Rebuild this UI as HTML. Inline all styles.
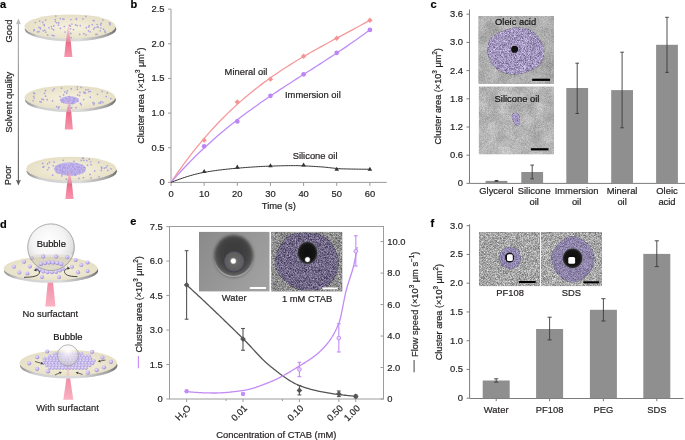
<!DOCTYPE html>
<html><head><meta charset="utf-8"><style>
html,body{margin:0;padding:0;background:#fff;}
svg{display:block;font-family:"Liberation Sans", sans-serif;will-change:transform;}
text{stroke:#231f20;stroke-width:0.2px;paint-order:stroke;}
</style></head><body>
<svg width="685" height="440" viewBox="0 0 685 440">
<rect width="685" height="440" fill="#fff"/>
<defs>
<radialGradient id="discTop" cx="50%" cy="55%" r="60%">
  <stop offset="0" stop-color="#f7f2df"/><stop offset="1" stop-color="#e4ddc3"/>
</radialGradient>
<linearGradient id="rim" x1="0" y1="0" x2="1" y2="0">
  <stop offset="0" stop-color="#8a8a8a"/><stop offset="0.15" stop-color="#cfcfcf"/><stop offset="0.6" stop-color="#dcdcdc"/><stop offset="0.9" stop-color="#a0a0a0"/><stop offset="1" stop-color="#6a6a6a"/>
</linearGradient>
<linearGradient id="beamLo" x1="0" y1="0" x2="0" y2="1">
  <stop offset="0" stop-color="#e06a88"/><stop offset="0.25" stop-color="#ef7592"/><stop offset="1" stop-color="#f697ad"/>
</linearGradient>
<linearGradient id="beamHi" x1="0" y1="0" x2="0" y2="1">
  <stop offset="0" stop-color="#f4b6c6" stop-opacity="0.4"/><stop offset="1" stop-color="#ea7593" stop-opacity="0.85"/>
</linearGradient>
<radialGradient id="bubble" cx="45%" cy="38%" r="62%">
  <stop offset="0" stop-color="#ffffff"/><stop offset="0.55" stop-color="#f4f4f4"/><stop offset="0.85" stop-color="#e0e0e0"/><stop offset="1" stop-color="#b8b8b8"/>
</radialGradient>
<linearGradient id="beamD" x1="0" y1="0" x2="0" y2="1">
  <stop offset="0" stop-color="#f08aa3"/><stop offset="1" stop-color="#f9b2c2"/>
</linearGradient>
<filter id="grain" x="0" y="0" width="100%" height="100%" color-interpolation-filters="sRGB">
<feTurbulence type="fractalNoise" baseFrequency="1.63" numOctaves="2" seed="3" result="n"/>
<feColorMatrix in="n" type="matrix" values="1 0 0 0 0  1 0 0 0 0  1 0 0 0 0  0 0 0 0 1" result="g"/>
<feComposite in="SourceGraphic" in2="g" operator="arithmetic" k1="0" k2="1" k3="0.75" k4="-0.375" result="c"/>
<feComposite in="c" in2="SourceGraphic" operator="in"/>
</filter>
<filter id="grainS" x="0" y="0" width="100%" height="100%" color-interpolation-filters="sRGB">
<feTurbulence type="fractalNoise" baseFrequency="1.63" numOctaves="2" seed="9" result="n"/>
<feColorMatrix in="n" type="matrix" values="1 0 0 0 0  1 0 0 0 0  1 0 0 0 0  0 0 0 0 1" result="g"/>
<feComposite in="SourceGraphic" in2="g" operator="arithmetic" k1="0" k2="1" k3="0.55" k4="-0.275" result="c"/>
<feComposite in="c" in2="SourceGraphic" operator="in"/>
</filter>
<filter id="grainXS" x="0" y="0" width="100%" height="100%" color-interpolation-filters="sRGB">
<feTurbulence type="fractalNoise" baseFrequency="1.37" numOctaves="2" seed="4" result="n"/>
<feColorMatrix in="n" type="matrix" values="1 0 0 0 0  1 0 0 0 0  1 0 0 0 0  0 0 0 0 1" result="g"/>
<feComposite in="SourceGraphic" in2="g" operator="arithmetic" k1="0" k2="1" k3="0.28" k4="-0.14" result="c"/>
<feComposite in="c" in2="SourceGraphic" operator="in"/>
</filter>
<filter id="blotch" x="0" y="0" width="100%" height="100%" color-interpolation-filters="sRGB">
<feTurbulence type="fractalNoise" baseFrequency="0.07" numOctaves="3" seed="8" result="n"/>
<feColorMatrix in="n" type="matrix" values="1 0 0 0 0  1 0 0 0 0  1 0 0 0 0  0 0 0 0 1" result="g"/>
<feComposite in="SourceGraphic" in2="g" operator="arithmetic" k1="0" k2="1" k3="0.22" k4="-0.11" result="c"/>
<feComposite in="c" in2="SourceGraphic" operator="in"/>
</filter>
</defs>
<text x="0.00" y="7.80" font-size="11" text-anchor="start" fill="#000" font-weight="bold" >a</text>
<text x="130.50" y="7.80" font-size="11" text-anchor="start" fill="#000" font-weight="bold" >b</text>
<text x="430.50" y="7.80" font-size="11" text-anchor="start" fill="#000" font-weight="bold" >c</text>
<text x="0.00" y="227.50" font-size="11" text-anchor="start" fill="#000" font-weight="bold" >d</text>
<text x="130.30" y="224.80" font-size="11" text-anchor="start" fill="#000" font-weight="bold" >e</text>
<text x="430.50" y="227.00" font-size="11" text-anchor="start" fill="#000" font-weight="bold" >f</text>
<defs><linearGradient id="arrg" gradientUnits="userSpaceOnUse" x1="0" y1="18" x2="0" y2="186"><stop offset="0" stop-color="#b8b8b8"/><stop offset="1" stop-color="#5e5e5e"/></linearGradient></defs>
<rect x="17.82" y="22" width="1.15" height="160" fill="url(#arrg)"/>
<path d="M18.4,18.6 L15.9,24.4 L18.4,23.4 L20.9,24.4 Z" fill="#b8b8b8"/>
<path d="M18.4,185.6 L15.9,179.8 L18.4,180.8 L20.9,179.8 Z" fill="#5e5e5e"/>
<text transform="translate(11.60,31.00) rotate(-90)" x="0" y="0" font-size="9.4" text-anchor="middle" fill="#231f20">Good</text>
<text transform="translate(11.60,102.30) rotate(-90)" x="0" y="0" font-size="9.4" text-anchor="middle" fill="#231f20">Solvent quality</text>
<text transform="translate(11.30,175.40) rotate(-90)" x="0" y="0" font-size="9.4" text-anchor="middle" fill="#231f20">Poor</text>
<path d="M65.90,41.10 L70.70,41.10 L72.40,57.00 L64.20,57.00 Z" fill="url(#beamLo)"/>
<ellipse cx="70.50" cy="29.20" rx="45.70" ry="12.20" fill="url(#rim)"/>
<ellipse cx="70.00" cy="26.60" rx="45.70" ry="12.20" fill="url(#discTop)"/>
<circle cx="94.11" cy="20.62" r="0.85" fill="#aaa2de"/>
<circle cx="69.58" cy="25.37" r="0.85" fill="#aaa2de"/>
<circle cx="83.86" cy="33.64" r="0.85" fill="#aaa2de"/>
<circle cx="100.69" cy="24.96" r="0.85" fill="#aaa2de"/>
<circle cx="65.01" cy="32.01" r="0.85" fill="#aaa2de"/>
<circle cx="110.14" cy="23.70" r="0.85" fill="#aaa2de"/>
<circle cx="44.10" cy="24.70" r="0.85" fill="#aaa2de"/>
<circle cx="64.32" cy="26.50" r="0.85" fill="#aaa2de"/>
<circle cx="45.60" cy="20.03" r="0.85" fill="#aaa2de"/>
<circle cx="44.30" cy="25.61" r="0.85" fill="#aaa2de"/>
<circle cx="100.85" cy="27.98" r="0.85" fill="#aaa2de"/>
<circle cx="83.01" cy="18.94" r="0.85" fill="#aaa2de"/>
<circle cx="35.35" cy="22.52" r="0.85" fill="#aaa2de"/>
<circle cx="90.24" cy="31.75" r="0.85" fill="#aaa2de"/>
<circle cx="109.89" cy="24.70" r="0.85" fill="#aaa2de"/>
<circle cx="100.17" cy="30.76" r="0.85" fill="#aaa2de"/>
<circle cx="52.03" cy="28.74" r="0.85" fill="#aaa2de"/>
<circle cx="70.48" cy="28.77" r="0.85" fill="#aaa2de"/>
<circle cx="97.18" cy="24.51" r="0.85" fill="#aaa2de"/>
<circle cx="40.11" cy="27.79" r="0.85" fill="#aaa2de"/>
<circle cx="88.56" cy="30.86" r="0.85" fill="#aaa2de"/>
<circle cx="58.55" cy="25.11" r="0.85" fill="#aaa2de"/>
<circle cx="70.77" cy="33.39" r="0.85" fill="#aaa2de"/>
<circle cx="71.91" cy="24.00" r="0.85" fill="#aaa2de"/>
<circle cx="60.28" cy="18.56" r="0.85" fill="#aaa2de"/>
<circle cx="94.73" cy="27.57" r="0.85" fill="#aaa2de"/>
<circle cx="102.93" cy="20.07" r="0.85" fill="#aaa2de"/>
<circle cx="71.26" cy="37.64" r="0.85" fill="#aaa2de"/>
<circle cx="77.11" cy="25.60" r="0.85" fill="#aaa2de"/>
<circle cx="48.91" cy="27.77" r="0.85" fill="#aaa2de"/>
<circle cx="95.93" cy="34.42" r="0.85" fill="#aaa2de"/>
<circle cx="105.30" cy="32.47" r="0.85" fill="#aaa2de"/>
<circle cx="98.26" cy="27.06" r="0.85" fill="#aaa2de"/>
<circle cx="75.61" cy="24.80" r="0.85" fill="#aaa2de"/>
<circle cx="76.40" cy="19.28" r="0.85" fill="#aaa2de"/>
<circle cx="70.43" cy="26.23" r="0.85" fill="#aaa2de"/>
<circle cx="56.91" cy="22.84" r="0.85" fill="#aaa2de"/>
<circle cx="73.52" cy="29.61" r="0.85" fill="#aaa2de"/>
<circle cx="80.28" cy="25.58" r="0.85" fill="#aaa2de"/>
<circle cx="40.50" cy="28.66" r="0.85" fill="#aaa2de"/>
<circle cx="97.15" cy="34.32" r="0.85" fill="#aaa2de"/>
<circle cx="47.63" cy="34.94" r="0.85" fill="#aaa2de"/>
<circle cx="85.82" cy="16.43" r="0.85" fill="#aaa2de"/>
<circle cx="93.36" cy="20.49" r="0.85" fill="#aaa2de"/>
<circle cx="34.31" cy="29.65" r="0.85" fill="#aaa2de"/>
<circle cx="55.78" cy="16.10" r="0.85" fill="#aaa2de"/>
<circle cx="38.89" cy="27.27" r="0.85" fill="#aaa2de"/>
<circle cx="39.67" cy="21.06" r="0.85" fill="#aaa2de"/>
<circle cx="89.34" cy="25.49" r="0.85" fill="#aaa2de"/>
<circle cx="53.73" cy="25.96" r="0.85" fill="#aaa2de"/>
<circle cx="62.77" cy="18.99" r="0.85" fill="#aaa2de"/>
<circle cx="70.92" cy="19.50" r="0.85" fill="#aaa2de"/>
<circle cx="79.66" cy="34.34" r="0.85" fill="#aaa2de"/>
<circle cx="37.69" cy="31.94" r="0.85" fill="#aaa2de"/>
<circle cx="38.94" cy="31.59" r="0.85" fill="#aaa2de"/>
<circle cx="86.29" cy="27.69" r="0.85" fill="#aaa2de"/>
<circle cx="97.22" cy="27.01" r="0.85" fill="#aaa2de"/>
<circle cx="44.70" cy="30.22" r="0.85" fill="#aaa2de"/>
<circle cx="60.39" cy="28.45" r="0.85" fill="#aaa2de"/>
<circle cx="53.66" cy="29.80" r="0.85" fill="#aaa2de"/>
<circle cx="52.30" cy="35.35" r="0.85" fill="#aaa2de"/>
<circle cx="92.29" cy="24.55" r="0.85" fill="#aaa2de"/>
<circle cx="76.42" cy="18.59" r="0.85" fill="#aaa2de"/>
<circle cx="88.65" cy="26.82" r="0.85" fill="#aaa2de"/>
<circle cx="58.85" cy="22.87" r="0.85" fill="#aaa2de"/>
<circle cx="43.11" cy="30.85" r="0.85" fill="#aaa2de"/>
<circle cx="63.87" cy="19.14" r="0.85" fill="#aaa2de"/>
<circle cx="33.84" cy="30.65" r="0.85" fill="#aaa2de"/>
<circle cx="51.36" cy="26.60" r="0.85" fill="#aaa2de"/>
<circle cx="54.04" cy="35.67" r="0.85" fill="#aaa2de"/>
<circle cx="42.66" cy="22.40" r="0.85" fill="#aaa2de"/>
<circle cx="55.29" cy="19.60" r="0.85" fill="#aaa2de"/>
<circle cx="85.95" cy="34.84" r="0.85" fill="#aaa2de"/>
<circle cx="109.50" cy="22.79" r="0.85" fill="#aaa2de"/>
<circle cx="104.95" cy="31.17" r="0.85" fill="#aaa2de"/>
<circle cx="45.75" cy="32.10" r="0.85" fill="#aaa2de"/>
<circle cx="93.68" cy="29.05" r="0.85" fill="#aaa2de"/>
<circle cx="101.18" cy="23.38" r="0.85" fill="#aaa2de"/>
<circle cx="55.40" cy="21.51" r="0.85" fill="#aaa2de"/>
<circle cx="103.58" cy="29.14" r="0.85" fill="#aaa2de"/>
<path d="M68.05,24.60 L68.55,24.60 L70.70,41.60 L65.90,41.60 Z" fill="url(#beamHi)"/>
<path d="M66.40,111.80 L71.20,111.80 L72.90,129.50 L64.70,129.50 Z" fill="url(#beamLo)"/>
<ellipse cx="70.40" cy="100.10" rx="45.50" ry="12.00" fill="url(#rim)"/>
<ellipse cx="69.90" cy="97.50" rx="45.50" ry="12.00" fill="url(#discTop)"/>
<circle cx="100.43" cy="103.16" r="0.85" fill="#aaa2de"/>
<circle cx="85.35" cy="92.90" r="0.85" fill="#aaa2de"/>
<circle cx="77.29" cy="89.30" r="0.85" fill="#aaa2de"/>
<circle cx="63.59" cy="94.94" r="0.85" fill="#aaa2de"/>
<circle cx="110.79" cy="98.56" r="0.85" fill="#aaa2de"/>
<circle cx="64.88" cy="91.94" r="0.85" fill="#aaa2de"/>
<circle cx="66.71" cy="93.14" r="0.85" fill="#aaa2de"/>
<circle cx="58.98" cy="106.90" r="0.85" fill="#aaa2de"/>
<circle cx="53.99" cy="88.78" r="0.85" fill="#aaa2de"/>
<circle cx="85.78" cy="89.86" r="0.85" fill="#aaa2de"/>
<circle cx="93.82" cy="104.45" r="0.85" fill="#aaa2de"/>
<circle cx="93.01" cy="102.66" r="0.85" fill="#aaa2de"/>
<circle cx="68.99" cy="107.70" r="0.85" fill="#aaa2de"/>
<circle cx="69.98" cy="105.46" r="0.85" fill="#aaa2de"/>
<circle cx="56.61" cy="106.69" r="0.85" fill="#aaa2de"/>
<circle cx="106.27" cy="96.56" r="0.85" fill="#aaa2de"/>
<circle cx="76.06" cy="107.59" r="0.85" fill="#aaa2de"/>
<circle cx="90.26" cy="97.18" r="0.85" fill="#aaa2de"/>
<circle cx="44.58" cy="93.29" r="0.85" fill="#aaa2de"/>
<circle cx="88.06" cy="89.49" r="0.85" fill="#aaa2de"/>
<circle cx="107.34" cy="92.93" r="0.85" fill="#aaa2de"/>
<circle cx="83.68" cy="99.61" r="0.85" fill="#aaa2de"/>
<circle cx="52.78" cy="90.49" r="0.85" fill="#aaa2de"/>
<circle cx="70.98" cy="107.92" r="0.85" fill="#aaa2de"/>
<circle cx="81.12" cy="87.31" r="0.85" fill="#aaa2de"/>
<circle cx="99.06" cy="102.92" r="0.85" fill="#aaa2de"/>
<circle cx="83.81" cy="92.05" r="0.85" fill="#aaa2de"/>
<circle cx="34.07" cy="98.04" r="0.85" fill="#aaa2de"/>
<circle cx="102.11" cy="91.38" r="0.85" fill="#aaa2de"/>
<circle cx="40.04" cy="101.65" r="0.85" fill="#aaa2de"/>
<circle cx="41.12" cy="102.10" r="0.85" fill="#aaa2de"/>
<circle cx="80.39" cy="103.32" r="0.85" fill="#aaa2de"/>
<circle cx="34.69" cy="93.59" r="0.85" fill="#aaa2de"/>
<circle cx="94.10" cy="103.26" r="0.85" fill="#aaa2de"/>
<circle cx="102.88" cy="102.43" r="0.85" fill="#aaa2de"/>
<circle cx="67.42" cy="90.91" r="0.85" fill="#aaa2de"/>
<circle cx="84.54" cy="93.09" r="0.85" fill="#aaa2de"/>
<circle cx="33.69" cy="96.25" r="0.85" fill="#aaa2de"/>
<circle cx="77.63" cy="94.93" r="0.85" fill="#aaa2de"/>
<circle cx="71.25" cy="88.95" r="0.85" fill="#aaa2de"/>
<circle cx="79.55" cy="95.57" r="0.85" fill="#aaa2de"/>
<circle cx="33.12" cy="100.74" r="0.85" fill="#aaa2de"/>
<circle cx="45.56" cy="96.17" r="0.85" fill="#aaa2de"/>
<circle cx="47.22" cy="99.69" r="0.85" fill="#aaa2de"/>
<circle cx="81.20" cy="104.70" r="0.85" fill="#aaa2de"/>
<circle cx="88.96" cy="91.66" r="0.85" fill="#aaa2de"/>
<circle cx="61.59" cy="88.17" r="0.85" fill="#aaa2de"/>
<circle cx="90.26" cy="91.28" r="0.85" fill="#aaa2de"/>
<circle cx="45.47" cy="90.72" r="0.85" fill="#aaa2de"/>
<circle cx="52.59" cy="100.90" r="0.85" fill="#aaa2de"/>
<circle cx="77.28" cy="86.73" r="0.85" fill="#aaa2de"/>
<circle cx="97.44" cy="94.29" r="0.85" fill="#aaa2de"/>
<circle cx="71.65" cy="107.61" r="0.85" fill="#aaa2de"/>
<circle cx="79.96" cy="92.45" r="0.85" fill="#aaa2de"/>
<circle cx="33.61" cy="92.84" r="0.85" fill="#aaa2de"/>
<circle cx="100.90" cy="101.64" r="0.85" fill="#aaa2de"/>
<circle cx="43.35" cy="99.63" r="0.85" fill="#aaa2de"/>
<circle cx="58.33" cy="107.95" r="0.85" fill="#aaa2de"/>
<circle cx="41.90" cy="99.22" r="0.85" fill="#aaa2de"/>
<circle cx="60.05" cy="96.62" r="0.85" fill="#aaa2de"/>
<ellipse cx="69.40" cy="100.20" rx="9.40" ry="4.00" fill="#c2b6ec"/>
<circle cx="74.17" cy="99.36" r="0.55" fill="#a898e0"/>
<circle cx="72.05" cy="103.88" r="0.55" fill="#a898e0"/>
<circle cx="72.39" cy="102.42" r="0.55" fill="#a898e0"/>
<circle cx="73.60" cy="100.18" r="0.55" fill="#a898e0"/>
<circle cx="66.72" cy="99.86" r="0.55" fill="#a898e0"/>
<circle cx="75.02" cy="98.35" r="0.55" fill="#a898e0"/>
<circle cx="69.89" cy="100.02" r="0.55" fill="#a898e0"/>
<circle cx="65.58" cy="98.05" r="0.55" fill="#a898e0"/>
<circle cx="69.19" cy="98.28" r="0.55" fill="#a898e0"/>
<circle cx="68.04" cy="101.63" r="0.55" fill="#a898e0"/>
<circle cx="77.27" cy="100.89" r="0.55" fill="#a898e0"/>
<circle cx="62.75" cy="99.53" r="0.55" fill="#a898e0"/>
<circle cx="72.18" cy="97.23" r="0.55" fill="#a898e0"/>
<circle cx="65.57" cy="98.05" r="0.55" fill="#a898e0"/>
<circle cx="72.61" cy="101.65" r="0.55" fill="#a898e0"/>
<circle cx="68.25" cy="100.39" r="0.55" fill="#a898e0"/>
<circle cx="62.11" cy="100.53" r="0.55" fill="#a898e0"/>
<circle cx="61.81" cy="100.33" r="0.55" fill="#a898e0"/>
<circle cx="73.45" cy="98.26" r="0.55" fill="#a898e0"/>
<circle cx="76.82" cy="99.89" r="0.55" fill="#a898e0"/>
<circle cx="73.22" cy="99.43" r="0.55" fill="#a898e0"/>
<circle cx="70.78" cy="97.36" r="0.55" fill="#a898e0"/>
<circle cx="68.29" cy="96.44" r="0.55" fill="#a898e0"/>
<circle cx="71.19" cy="103.25" r="0.55" fill="#a898e0"/>
<circle cx="63.39" cy="100.28" r="0.55" fill="#a898e0"/>
<circle cx="69.07" cy="99.44" r="0.55" fill="#a898e0"/>
<circle cx="73.36" cy="103.69" r="0.55" fill="#a898e0"/>
<circle cx="73.26" cy="99.98" r="0.55" fill="#a898e0"/>
<circle cx="78.09" cy="98.85" r="0.55" fill="#a898e0"/>
<circle cx="74.02" cy="101.47" r="0.55" fill="#a898e0"/>
<circle cx="74.32" cy="103.02" r="0.55" fill="#a898e0"/>
<circle cx="64.23" cy="101.17" r="0.55" fill="#a898e0"/>
<circle cx="67.57" cy="101.54" r="0.55" fill="#a898e0"/>
<circle cx="78.37" cy="101.28" r="0.55" fill="#a898e0"/>
<circle cx="60.22" cy="99.92" r="0.55" fill="#a898e0"/>
<circle cx="73.38" cy="103.27" r="0.55" fill="#a898e0"/>
<circle cx="72.22" cy="102.73" r="0.55" fill="#a898e0"/>
<circle cx="73.71" cy="101.05" r="0.55" fill="#a898e0"/>
<circle cx="74.42" cy="97.80" r="0.55" fill="#a898e0"/>
<circle cx="73.99" cy="100.89" r="0.55" fill="#a898e0"/>
<circle cx="63.60" cy="102.63" r="0.55" fill="#a898e0"/>
<circle cx="62.59" cy="101.10" r="0.55" fill="#a898e0"/>
<circle cx="68.17" cy="98.23" r="0.55" fill="#a898e0"/>
<circle cx="70.64" cy="99.94" r="0.55" fill="#a898e0"/>
<circle cx="69.13" cy="102.90" r="0.55" fill="#a898e0"/>
<circle cx="72.38" cy="102.24" r="0.55" fill="#a898e0"/>
<circle cx="69.12" cy="101.60" r="0.55" fill="#a898e0"/>
<circle cx="66.30" cy="98.34" r="0.55" fill="#a898e0"/>
<circle cx="69.45" cy="96.42" r="0.55" fill="#a898e0"/>
<circle cx="61.50" cy="102.23" r="0.55" fill="#a898e0"/>
<circle cx="63.27" cy="102.20" r="0.55" fill="#a898e0"/>
<circle cx="74.75" cy="99.44" r="0.55" fill="#a898e0"/>
<path d="M68.55,100.20 L69.05,100.20 L71.20,112.30 L66.40,112.30 Z" fill="url(#beamHi)"/>
<path d="M67.10,183.00 L71.90,183.00 L73.60,199.00 L65.40,199.00 Z" fill="url(#beamLo)"/>
<ellipse cx="71.80" cy="171.30" rx="45.20" ry="12.00" fill="url(#rim)"/>
<ellipse cx="71.30" cy="168.70" rx="45.20" ry="12.00" fill="url(#discTop)"/>
<circle cx="47.61" cy="169.76" r="0.85" fill="#aaa2de"/>
<circle cx="82.67" cy="158.27" r="0.85" fill="#aaa2de"/>
<circle cx="49.55" cy="162.32" r="0.85" fill="#aaa2de"/>
<circle cx="101.72" cy="168.13" r="0.85" fill="#aaa2de"/>
<circle cx="83.87" cy="160.31" r="0.85" fill="#aaa2de"/>
<circle cx="83.49" cy="177.53" r="0.85" fill="#aaa2de"/>
<circle cx="94.64" cy="170.89" r="0.85" fill="#aaa2de"/>
<circle cx="104.34" cy="168.05" r="0.85" fill="#aaa2de"/>
<circle cx="91.08" cy="177.79" r="0.85" fill="#aaa2de"/>
<circle cx="61.80" cy="175.92" r="0.85" fill="#aaa2de"/>
<circle cx="66.29" cy="179.15" r="0.85" fill="#aaa2de"/>
<circle cx="78.92" cy="178.40" r="0.85" fill="#aaa2de"/>
<circle cx="86.78" cy="160.61" r="0.85" fill="#aaa2de"/>
<circle cx="107.88" cy="170.36" r="0.85" fill="#aaa2de"/>
<circle cx="90.63" cy="161.77" r="0.85" fill="#aaa2de"/>
<circle cx="101.28" cy="170.46" r="0.85" fill="#aaa2de"/>
<circle cx="63.21" cy="160.32" r="0.85" fill="#aaa2de"/>
<circle cx="52.67" cy="175.15" r="0.85" fill="#aaa2de"/>
<circle cx="91.05" cy="164.64" r="0.85" fill="#aaa2de"/>
<circle cx="43.94" cy="166.49" r="0.85" fill="#aaa2de"/>
<circle cx="81.29" cy="160.45" r="0.85" fill="#aaa2de"/>
<circle cx="107.16" cy="165.77" r="0.85" fill="#aaa2de"/>
<circle cx="111.13" cy="168.87" r="0.85" fill="#aaa2de"/>
<circle cx="47.58" cy="163.93" r="0.85" fill="#aaa2de"/>
<circle cx="83.25" cy="158.14" r="0.85" fill="#aaa2de"/>
<circle cx="87.51" cy="165.16" r="0.85" fill="#aaa2de"/>
<circle cx="90.01" cy="174.41" r="0.85" fill="#aaa2de"/>
<circle cx="48.80" cy="167.65" r="0.85" fill="#aaa2de"/>
<circle cx="53.26" cy="165.75" r="0.85" fill="#aaa2de"/>
<circle cx="54.13" cy="162.04" r="0.85" fill="#aaa2de"/>
<circle cx="98.76" cy="162.43" r="0.85" fill="#aaa2de"/>
<circle cx="43.04" cy="167.15" r="0.85" fill="#aaa2de"/>
<circle cx="89.21" cy="159.14" r="0.85" fill="#aaa2de"/>
<circle cx="101.45" cy="167.22" r="0.85" fill="#aaa2de"/>
<circle cx="106.09" cy="167.53" r="0.85" fill="#aaa2de"/>
<circle cx="73.98" cy="161.28" r="0.85" fill="#aaa2de"/>
<circle cx="99.03" cy="176.82" r="0.85" fill="#aaa2de"/>
<circle cx="42.70" cy="163.39" r="0.85" fill="#aaa2de"/>
<ellipse cx="70.00" cy="169.00" rx="16.00" ry="6.70" fill="#c2b6ec"/>
<circle cx="79.83" cy="170.90" r="0.55" fill="#a898e0"/>
<circle cx="79.80" cy="166.93" r="0.55" fill="#a898e0"/>
<circle cx="58.15" cy="166.21" r="0.55" fill="#a898e0"/>
<circle cx="79.40" cy="165.93" r="0.55" fill="#a898e0"/>
<circle cx="65.08" cy="167.89" r="0.55" fill="#a898e0"/>
<circle cx="67.43" cy="167.79" r="0.55" fill="#a898e0"/>
<circle cx="67.90" cy="175.03" r="0.55" fill="#a898e0"/>
<circle cx="77.86" cy="173.51" r="0.55" fill="#a898e0"/>
<circle cx="75.22" cy="169.25" r="0.55" fill="#a898e0"/>
<circle cx="63.25" cy="166.87" r="0.55" fill="#a898e0"/>
<circle cx="72.84" cy="166.15" r="0.55" fill="#a898e0"/>
<circle cx="82.92" cy="171.60" r="0.55" fill="#a898e0"/>
<circle cx="82.79" cy="170.03" r="0.55" fill="#a898e0"/>
<circle cx="59.50" cy="166.32" r="0.55" fill="#a898e0"/>
<circle cx="75.21" cy="169.33" r="0.55" fill="#a898e0"/>
<circle cx="67.24" cy="174.88" r="0.55" fill="#a898e0"/>
<circle cx="73.59" cy="166.87" r="0.55" fill="#a898e0"/>
<circle cx="62.08" cy="173.85" r="0.55" fill="#a898e0"/>
<circle cx="69.27" cy="172.78" r="0.55" fill="#a898e0"/>
<circle cx="65.26" cy="164.94" r="0.55" fill="#a898e0"/>
<circle cx="71.11" cy="173.25" r="0.55" fill="#a898e0"/>
<circle cx="59.48" cy="172.91" r="0.55" fill="#a898e0"/>
<circle cx="74.12" cy="173.86" r="0.55" fill="#a898e0"/>
<circle cx="62.59" cy="169.37" r="0.55" fill="#a898e0"/>
<circle cx="67.54" cy="168.64" r="0.55" fill="#a898e0"/>
<circle cx="56.76" cy="169.03" r="0.55" fill="#a898e0"/>
<circle cx="64.11" cy="166.52" r="0.55" fill="#a898e0"/>
<circle cx="65.24" cy="170.97" r="0.55" fill="#a898e0"/>
<circle cx="72.77" cy="167.14" r="0.55" fill="#a898e0"/>
<circle cx="60.11" cy="166.71" r="0.55" fill="#a898e0"/>
<circle cx="57.96" cy="169.74" r="0.55" fill="#a898e0"/>
<circle cx="76.91" cy="167.40" r="0.55" fill="#a898e0"/>
<circle cx="65.94" cy="170.40" r="0.55" fill="#a898e0"/>
<circle cx="79.04" cy="167.40" r="0.55" fill="#a898e0"/>
<circle cx="79.64" cy="170.65" r="0.55" fill="#a898e0"/>
<circle cx="67.81" cy="167.29" r="0.55" fill="#a898e0"/>
<circle cx="69.88" cy="171.72" r="0.55" fill="#a898e0"/>
<circle cx="67.46" cy="171.60" r="0.55" fill="#a898e0"/>
<circle cx="68.75" cy="165.58" r="0.55" fill="#a898e0"/>
<circle cx="71.15" cy="171.62" r="0.55" fill="#a898e0"/>
<circle cx="56.29" cy="167.99" r="0.55" fill="#a898e0"/>
<circle cx="67.63" cy="174.09" r="0.55" fill="#a898e0"/>
<circle cx="83.97" cy="167.31" r="0.55" fill="#a898e0"/>
<circle cx="82.73" cy="172.90" r="0.55" fill="#a898e0"/>
<circle cx="62.39" cy="168.52" r="0.55" fill="#a898e0"/>
<circle cx="57.94" cy="173.20" r="0.55" fill="#a898e0"/>
<circle cx="75.19" cy="174.19" r="0.55" fill="#a898e0"/>
<circle cx="79.36" cy="171.25" r="0.55" fill="#a898e0"/>
<circle cx="77.48" cy="169.86" r="0.55" fill="#a898e0"/>
<circle cx="57.30" cy="170.18" r="0.55" fill="#a898e0"/>
<circle cx="82.17" cy="164.70" r="0.55" fill="#a898e0"/>
<circle cx="75.55" cy="173.50" r="0.55" fill="#a898e0"/>
<circle cx="84.48" cy="170.06" r="0.55" fill="#a898e0"/>
<circle cx="78.56" cy="169.15" r="0.55" fill="#a898e0"/>
<circle cx="76.89" cy="163.73" r="0.55" fill="#a898e0"/>
<circle cx="55.96" cy="166.64" r="0.55" fill="#a898e0"/>
<circle cx="72.05" cy="173.40" r="0.55" fill="#a898e0"/>
<circle cx="61.75" cy="164.71" r="0.55" fill="#a898e0"/>
<circle cx="62.00" cy="170.55" r="0.55" fill="#a898e0"/>
<circle cx="78.11" cy="167.58" r="0.55" fill="#a898e0"/>
<circle cx="65.76" cy="167.61" r="0.55" fill="#a898e0"/>
<circle cx="65.21" cy="167.90" r="0.55" fill="#a898e0"/>
<circle cx="56.66" cy="169.00" r="0.55" fill="#a898e0"/>
<circle cx="85.14" cy="167.83" r="0.55" fill="#a898e0"/>
<circle cx="77.92" cy="164.45" r="0.55" fill="#a898e0"/>
<circle cx="76.11" cy="172.43" r="0.55" fill="#a898e0"/>
<circle cx="75.56" cy="169.23" r="0.55" fill="#a898e0"/>
<circle cx="69.48" cy="170.92" r="0.55" fill="#a898e0"/>
<circle cx="57.07" cy="172.33" r="0.55" fill="#a898e0"/>
<circle cx="83.33" cy="169.23" r="0.55" fill="#a898e0"/>
<circle cx="68.18" cy="171.93" r="0.55" fill="#a898e0"/>
<circle cx="59.96" cy="165.88" r="0.55" fill="#a898e0"/>
<circle cx="60.37" cy="170.15" r="0.55" fill="#a898e0"/>
<circle cx="64.08" cy="165.41" r="0.55" fill="#a898e0"/>
<circle cx="76.12" cy="175.08" r="0.55" fill="#a898e0"/>
<circle cx="63.47" cy="171.75" r="0.55" fill="#a898e0"/>
<circle cx="67.22" cy="173.74" r="0.55" fill="#a898e0"/>
<circle cx="72.71" cy="165.88" r="0.55" fill="#a898e0"/>
<circle cx="69.34" cy="167.43" r="0.55" fill="#a898e0"/>
<circle cx="59.51" cy="167.13" r="0.55" fill="#a898e0"/>
<circle cx="64.31" cy="172.67" r="0.55" fill="#a898e0"/>
<circle cx="69.35" cy="170.33" r="0.55" fill="#a898e0"/>
<circle cx="68.98" cy="173.48" r="0.55" fill="#a898e0"/>
<circle cx="80.29" cy="169.77" r="0.55" fill="#a898e0"/>
<circle cx="69.40" cy="171.96" r="0.55" fill="#a898e0"/>
<circle cx="81.41" cy="167.66" r="0.55" fill="#a898e0"/>
<circle cx="68.96" cy="165.38" r="0.55" fill="#a898e0"/>
<circle cx="61.51" cy="171.92" r="0.55" fill="#a898e0"/>
<circle cx="75.61" cy="175.15" r="0.55" fill="#a898e0"/>
<circle cx="81.32" cy="165.54" r="0.55" fill="#a898e0"/>
<circle cx="60.07" cy="165.77" r="0.55" fill="#a898e0"/>
<circle cx="59.99" cy="171.74" r="0.55" fill="#a898e0"/>
<circle cx="62.16" cy="173.89" r="0.55" fill="#a898e0"/>
<circle cx="64.03" cy="167.97" r="0.55" fill="#a898e0"/>
<circle cx="77.33" cy="163.45" r="0.55" fill="#a898e0"/>
<circle cx="63.34" cy="167.08" r="0.55" fill="#a898e0"/>
<circle cx="72.57" cy="171.35" r="0.55" fill="#a898e0"/>
<circle cx="67.96" cy="168.81" r="0.55" fill="#a898e0"/>
<circle cx="60.72" cy="170.14" r="0.55" fill="#a898e0"/>
<circle cx="84.57" cy="167.54" r="0.55" fill="#a898e0"/>
<circle cx="71.42" cy="163.90" r="0.55" fill="#a898e0"/>
<circle cx="62.79" cy="171.22" r="0.55" fill="#a898e0"/>
<circle cx="84.12" cy="167.31" r="0.55" fill="#a898e0"/>
<circle cx="78.72" cy="172.45" r="0.55" fill="#a898e0"/>
<circle cx="63.46" cy="171.36" r="0.55" fill="#a898e0"/>
<circle cx="74.93" cy="173.10" r="0.55" fill="#a898e0"/>
<circle cx="62.50" cy="172.41" r="0.55" fill="#a898e0"/>
<circle cx="84.76" cy="171.32" r="0.55" fill="#a898e0"/>
<circle cx="71.16" cy="163.82" r="0.55" fill="#a898e0"/>
<circle cx="69.80" cy="167.02" r="0.55" fill="#a898e0"/>
<circle cx="76.98" cy="171.39" r="0.55" fill="#a898e0"/>
<circle cx="72.12" cy="164.74" r="0.55" fill="#a898e0"/>
<circle cx="74.66" cy="170.75" r="0.55" fill="#a898e0"/>
<circle cx="74.97" cy="163.95" r="0.55" fill="#a898e0"/>
<circle cx="64.61" cy="171.95" r="0.55" fill="#a898e0"/>
<circle cx="73.12" cy="169.74" r="0.55" fill="#a898e0"/>
<circle cx="74.72" cy="168.43" r="0.55" fill="#a898e0"/>
<circle cx="64.00" cy="164.66" r="0.55" fill="#a898e0"/>
<circle cx="56.20" cy="171.89" r="0.55" fill="#a898e0"/>
<circle cx="78.14" cy="169.58" r="0.55" fill="#a898e0"/>
<circle cx="77.67" cy="167.11" r="0.55" fill="#a898e0"/>
<circle cx="62.51" cy="167.44" r="0.55" fill="#a898e0"/>
<circle cx="70.15" cy="165.61" r="0.55" fill="#a898e0"/>
<circle cx="78.60" cy="167.05" r="0.55" fill="#a898e0"/>
<circle cx="64.65" cy="167.70" r="0.55" fill="#a898e0"/>
<circle cx="71.33" cy="172.64" r="0.55" fill="#a898e0"/>
<circle cx="65.29" cy="173.65" r="0.55" fill="#a898e0"/>
<circle cx="57.59" cy="165.92" r="0.55" fill="#a898e0"/>
<circle cx="78.93" cy="172.05" r="0.55" fill="#a898e0"/>
<circle cx="59.92" cy="164.83" r="0.55" fill="#a898e0"/>
<circle cx="67.33" cy="172.26" r="0.55" fill="#a898e0"/>
<circle cx="80.10" cy="172.33" r="0.55" fill="#a898e0"/>
<circle cx="72.94" cy="164.26" r="0.55" fill="#a898e0"/>
<circle cx="66.75" cy="164.89" r="0.55" fill="#a898e0"/>
<circle cx="70.88" cy="169.92" r="0.55" fill="#a898e0"/>
<circle cx="60.47" cy="165.65" r="0.55" fill="#a898e0"/>
<circle cx="79.70" cy="174.24" r="0.55" fill="#a898e0"/>
<circle cx="84.38" cy="167.43" r="0.55" fill="#a898e0"/>
<circle cx="71.68" cy="170.11" r="0.55" fill="#a898e0"/>
<circle cx="74.28" cy="175.39" r="0.55" fill="#a898e0"/>
<circle cx="75.97" cy="166.31" r="0.55" fill="#a898e0"/>
<circle cx="81.52" cy="168.79" r="0.55" fill="#a898e0"/>
<circle cx="73.24" cy="172.04" r="0.55" fill="#a898e0"/>
<circle cx="75.18" cy="168.89" r="0.55" fill="#a898e0"/>
<circle cx="70.76" cy="168.47" r="0.55" fill="#a898e0"/>
<circle cx="60.19" cy="169.40" r="0.55" fill="#a898e0"/>
<circle cx="55.19" cy="169.01" r="0.55" fill="#a898e0"/>
<circle cx="74.67" cy="168.25" r="0.55" fill="#a898e0"/>
<circle cx="72.11" cy="175.15" r="0.55" fill="#a898e0"/>
<circle cx="79.36" cy="170.65" r="0.55" fill="#a898e0"/>
<path d="M69.25,169.00 L69.75,169.00 L71.90,183.50 L67.10,183.50 Z" fill="url(#beamHi)"/>
<line x1="171.00" y1="9.15" x2="171.00" y2="182.40" stroke="#9a9a9a" stroke-width="1" />
<line x1="171.00" y1="182.40" x2="386.80" y2="182.40" stroke="#9a9a9a" stroke-width="1" />
<line x1="168.00" y1="182.40" x2="171.00" y2="182.40" stroke="#9a9a9a" stroke-width="1" />
<text x="164.60" y="185.20" font-size="9.4" text-anchor="end" fill="#231f20" font-weight="normal" >0</text>
<line x1="168.00" y1="147.75" x2="171.00" y2="147.75" stroke="#9a9a9a" stroke-width="1" />
<text x="164.60" y="150.55" font-size="9.4" text-anchor="end" fill="#231f20" font-weight="normal" >0.5</text>
<line x1="168.00" y1="113.10" x2="171.00" y2="113.10" stroke="#9a9a9a" stroke-width="1" />
<text x="164.60" y="115.90" font-size="9.4" text-anchor="end" fill="#231f20" font-weight="normal" >1.0</text>
<line x1="168.00" y1="78.45" x2="171.00" y2="78.45" stroke="#9a9a9a" stroke-width="1" />
<text x="164.60" y="81.25" font-size="9.4" text-anchor="end" fill="#231f20" font-weight="normal" >1.5</text>
<line x1="168.00" y1="43.80" x2="171.00" y2="43.80" stroke="#9a9a9a" stroke-width="1" />
<text x="164.60" y="46.60" font-size="9.4" text-anchor="end" fill="#231f20" font-weight="normal" >2.0</text>
<line x1="168.00" y1="9.15" x2="171.00" y2="9.15" stroke="#9a9a9a" stroke-width="1" />
<text x="164.60" y="11.95" font-size="9.4" text-anchor="end" fill="#231f20" font-weight="normal" >2.5</text>
<line x1="171.00" y1="182.40" x2="171.00" y2="185.90" stroke="#9a9a9a" stroke-width="1" />
<text x="171.00" y="196.50" font-size="9.4" text-anchor="middle" fill="#231f20" font-weight="normal" >0</text>
<line x1="204.15" y1="182.40" x2="204.15" y2="185.90" stroke="#9a9a9a" stroke-width="1" />
<text x="204.15" y="196.50" font-size="9.4" text-anchor="middle" fill="#231f20" font-weight="normal" >10</text>
<line x1="237.30" y1="182.40" x2="237.30" y2="185.90" stroke="#9a9a9a" stroke-width="1" />
<text x="237.30" y="196.50" font-size="9.4" text-anchor="middle" fill="#231f20" font-weight="normal" >20</text>
<line x1="270.45" y1="182.40" x2="270.45" y2="185.90" stroke="#9a9a9a" stroke-width="1" />
<text x="270.45" y="196.50" font-size="9.4" text-anchor="middle" fill="#231f20" font-weight="normal" >30</text>
<line x1="303.60" y1="182.40" x2="303.60" y2="185.90" stroke="#9a9a9a" stroke-width="1" />
<text x="303.60" y="196.50" font-size="9.4" text-anchor="middle" fill="#231f20" font-weight="normal" >40</text>
<line x1="336.75" y1="182.40" x2="336.75" y2="185.90" stroke="#9a9a9a" stroke-width="1" />
<text x="336.75" y="196.50" font-size="9.4" text-anchor="middle" fill="#231f20" font-weight="normal" >50</text>
<line x1="369.90" y1="182.40" x2="369.90" y2="185.90" stroke="#9a9a9a" stroke-width="1" />
<text x="369.90" y="196.50" font-size="9.4" text-anchor="middle" fill="#231f20" font-weight="normal" >60</text>
<text x="278.80" y="209.20" font-size="9.4" text-anchor="middle" fill="#231f20" font-weight="normal" >Time (s)</text>
<text transform="translate(143.70,95.70) rotate(-90)" x="0" y="0" font-size="9.15" text-anchor="middle" fill="#231f20">Cluster area (×10<tspan font-size="6.4" baseline-shift="4.1">3</tspan> μm<tspan font-size="6.4" baseline-shift="4.1">2</tspan>)</text>
<path d="M171.00,182.40 L174.31,177.49 L177.63,172.69 L180.94,168.02 L184.26,163.46 L187.57,159.02 L190.89,154.68 L194.20,150.46 L197.52,146.34 L200.84,142.32 L204.15,138.41 L207.47,134.59 L210.78,130.87 L214.09,127.25 L217.41,123.72 L220.72,120.28 L224.04,116.92 L227.35,113.65 L230.67,110.47 L233.99,107.36 L237.30,104.33 L240.62,101.38 L243.93,98.50 L247.25,95.69 L250.56,92.96 L253.88,90.28 L257.19,87.68 L260.50,85.13 L263.82,82.64 L267.13,80.21 L270.45,77.83 L273.76,75.51 L277.08,73.24 L280.39,71.01 L283.71,68.83 L287.02,66.69 L290.34,64.59 L293.65,62.53 L296.97,60.51 L300.28,58.52 L303.60,56.56 L306.91,54.63 L310.23,52.73 L313.54,50.85 L316.86,48.99 L320.18,47.15 L323.49,45.33 L326.81,43.52 L330.12,41.72 L333.44,39.94 L336.75,38.16 L340.06,36.39 L343.38,34.62 L346.69,32.85 L350.01,31.08 L353.32,29.31 L356.64,27.53 L359.95,25.74 L363.27,23.94 L366.59,22.12 L369.90,20.29" fill="none" stroke="#f59a9b" stroke-width="1.3"/>
<path d="M171.00,182.40 L174.31,178.61 L177.63,174.91 L180.94,171.28 L184.26,167.73 L187.57,164.26 L190.89,160.86 L194.20,157.53 L197.52,154.28 L200.84,151.09 L204.15,147.96 L207.47,144.90 L210.78,141.90 L214.09,138.96 L217.41,136.07 L220.72,133.24 L224.04,130.47 L227.35,127.74 L230.67,125.06 L233.99,122.44 L237.30,119.85 L240.62,117.31 L243.93,114.81 L247.25,112.35 L250.56,109.92 L253.88,107.53 L257.19,105.17 L260.50,102.84 L263.82,100.55 L267.13,98.27 L270.45,96.02 L273.76,93.80 L277.08,91.59 L280.39,89.41 L283.71,87.24 L287.02,85.08 L290.34,82.93 L293.65,80.80 L296.97,78.67 L300.28,76.55 L303.60,74.44 L306.91,72.32 L310.23,70.21 L313.54,68.09 L316.86,65.97 L320.18,63.84 L323.49,61.71 L326.81,59.56 L330.12,57.40 L333.44,55.23 L336.75,53.04 L340.06,50.83 L343.38,48.60 L346.69,46.35 L350.01,44.07 L353.32,41.77 L356.64,39.44 L359.95,37.08 L363.27,34.68 L366.59,32.25 L369.90,29.78" fill="none" stroke="#bf8cf7" stroke-width="1.3"/>
<path d="M171.00,182.40 L172.66,181.75 L174.31,181.12 L175.97,180.49 L177.63,179.88 L179.29,179.28 L180.94,178.69 L182.60,178.12 L184.26,177.56 L185.92,177.01 L187.57,176.49 L189.23,175.98 L190.89,175.49 L192.55,175.02 L194.20,174.57 L195.86,174.14 L197.52,173.73 L199.18,173.35 L200.84,172.99 L202.49,172.66 L204.15,172.35 L205.81,172.06 L207.47,171.78 L209.12,171.51 L210.78,171.25 L212.44,171.00 L214.09,170.76 L215.75,170.53 L217.41,170.31 L219.07,170.09 L220.72,169.88 L222.38,169.68 L224.04,169.49 L225.70,169.31 L227.35,169.13 L229.01,168.96 L230.67,168.79 L232.33,168.63 L233.99,168.48 L235.64,168.33 L237.30,168.19 L238.96,168.06 L240.62,167.92 L242.27,167.79 L243.93,167.65 L245.59,167.53 L247.25,167.40 L248.90,167.28 L250.56,167.16 L252.22,167.04 L253.88,166.93 L255.53,166.83 L257.19,166.73 L258.85,166.63 L260.50,166.54 L262.16,166.45 L263.82,166.37 L265.48,166.30 L267.13,166.23 L268.79,166.17 L270.45,166.11 L272.11,166.06 L273.76,166.01 L275.42,165.96 L277.08,165.92 L278.74,165.87 L280.39,165.82 L282.05,165.78 L283.71,165.75 L285.37,165.71 L287.02,165.68 L288.68,165.66 L290.34,165.64 L292.00,165.63 L293.65,165.63 L295.31,165.64 L296.97,165.66 L298.63,165.69 L300.28,165.74 L301.94,165.80 L303.60,165.86 L305.26,165.94 L306.91,166.02 L308.57,166.11 L310.23,166.20 L311.89,166.30 L313.54,166.40 L315.20,166.50 L316.86,166.60 L318.52,166.71 L320.18,166.81 L321.83,166.92 L323.49,167.06 L325.15,167.22 L326.81,167.39 L328.46,167.57 L330.12,167.76 L331.78,167.95 L333.44,168.14 L335.09,168.31 L336.75,168.48 L338.41,168.62 L340.06,168.74 L341.72,168.83 L343.38,168.89 L345.04,168.92 L346.69,168.96 L348.35,168.99 L350.01,169.03 L351.67,169.06 L353.32,169.09 L354.98,169.11 L356.64,169.14 L358.30,169.16 L359.95,169.18 L361.61,169.19 L363.27,169.21 L364.93,169.22 L366.59,169.23 L368.24,169.23 L369.90,169.23" fill="none" stroke="#333" stroke-width="1.0"/>
<path d="M204.15,137.43 L206.85,140.13 L204.15,142.83 L201.45,140.13 Z" fill="#f59495"/>
<path d="M237.30,99.31 L240.00,102.01 L237.30,104.71 L234.60,102.01 Z" fill="#f59495"/>
<path d="M270.45,76.44 L273.15,79.14 L270.45,81.84 L267.75,79.14 Z" fill="#f59495"/>
<path d="M303.60,53.57 L306.30,56.27 L303.60,58.97 L300.90,56.27 Z" fill="#f59495"/>
<path d="M336.75,35.56 L339.45,38.26 L336.75,40.96 L334.05,38.26 Z" fill="#f59495"/>
<path d="M369.90,17.54 L372.60,20.24 L369.90,22.94 L367.20,20.24 Z" fill="#f59495"/>
<circle cx="204.15" cy="146.36" r="2.35" fill="#bb87f7"/>
<circle cx="237.30" cy="121.42" r="2.35" fill="#bb87f7"/>
<circle cx="270.45" cy="95.78" r="2.35" fill="#bb87f7"/>
<circle cx="303.60" cy="74.29" r="2.35" fill="#bb87f7"/>
<circle cx="336.75" cy="52.81" r="2.35" fill="#bb87f7"/>
<circle cx="369.90" cy="29.94" r="2.35" fill="#bb87f7"/>
<path d="M204.15,168.92 L206.45,173.02 L201.85,173.02 Z" fill="#333"/>
<path d="M237.30,164.55 L239.60,168.65 L235.00,168.65 Z" fill="#333"/>
<path d="M270.45,163.17 L272.75,167.27 L268.15,167.27 Z" fill="#333"/>
<path d="M303.60,162.48 L305.90,166.58 L301.30,166.58 Z" fill="#333"/>
<path d="M336.75,166.63 L339.05,170.73 L334.45,170.73 Z" fill="#333"/>
<path d="M369.90,166.63 L372.20,170.73 L367.60,170.73 Z" fill="#333"/>
<text x="224.60" y="75.10" font-size="9.4" text-anchor="start" fill="#231f20" font-weight="normal" >Mineral oil</text>
<text x="285.00" y="97.90" font-size="9.4" text-anchor="start" fill="#231f20" font-weight="normal" >Immersion oil</text>
<text x="292.70" y="158.70" font-size="9.4" text-anchor="start" fill="#231f20" font-weight="normal" >Silicone oil</text>
<line x1="469.50" y1="9.50" x2="469.50" y2="183.40" stroke="#7c7c7c" stroke-width="1" />
<line x1="469.50" y1="183.40" x2="685.00" y2="183.40" stroke="#7c7c7c" stroke-width="1" />
<line x1="466.50" y1="183.40" x2="469.50" y2="183.40" stroke="#7c7c7c" stroke-width="1" />
<text x="463.00" y="186.30" font-size="9.4" text-anchor="end" fill="#231f20" font-weight="normal" >0</text>
<line x1="466.50" y1="155.20" x2="469.50" y2="155.20" stroke="#7c7c7c" stroke-width="1" />
<text x="463.00" y="158.10" font-size="9.4" text-anchor="end" fill="#231f20" font-weight="normal" >0.6</text>
<line x1="466.50" y1="127.00" x2="469.50" y2="127.00" stroke="#7c7c7c" stroke-width="1" />
<text x="463.00" y="129.90" font-size="9.4" text-anchor="end" fill="#231f20" font-weight="normal" >1.2</text>
<line x1="466.50" y1="98.80" x2="469.50" y2="98.80" stroke="#7c7c7c" stroke-width="1" />
<text x="463.00" y="101.70" font-size="9.4" text-anchor="end" fill="#231f20" font-weight="normal" >1.8</text>
<line x1="466.50" y1="70.60" x2="469.50" y2="70.60" stroke="#7c7c7c" stroke-width="1" />
<text x="463.00" y="73.50" font-size="9.4" text-anchor="end" fill="#231f20" font-weight="normal" >2.4</text>
<line x1="466.50" y1="42.40" x2="469.50" y2="42.40" stroke="#7c7c7c" stroke-width="1" />
<text x="463.00" y="45.30" font-size="9.4" text-anchor="end" fill="#231f20" font-weight="normal" >3.0</text>
<line x1="466.50" y1="14.20" x2="469.50" y2="14.20" stroke="#7c7c7c" stroke-width="1" />
<text x="463.00" y="17.10" font-size="9.4" text-anchor="end" fill="#231f20" font-weight="normal" >3.6</text>
<text transform="translate(441.30,96.30) rotate(-90)" x="0" y="0" font-size="9.15" text-anchor="middle" fill="#231f20">Cluster area (×10<tspan font-size="6.4" baseline-shift="4.1">3</tspan> μm<tspan font-size="6.4" baseline-shift="4.1">2</tspan>)</text>
<rect x="485.60" y="180.90" width="21.80" height="2.50" fill="#8f8f8f"/>
<rect x="521.30" y="172.00" width="21.80" height="11.40" fill="#8f8f8f"/>
<rect x="566.30" y="88.00" width="21.80" height="95.40" fill="#8f8f8f"/>
<rect x="611.20" y="90.10" width="21.80" height="93.30" fill="#8f8f8f"/>
<rect x="656.10" y="44.80" width="21.80" height="138.60" fill="#8f8f8f"/>
<line x1="496.50" y1="180.50" x2="496.50" y2="181.40" stroke="#3a3a3a" stroke-width="0.9"/>
<line x1="494.70" y1="180.50" x2="498.30" y2="180.50" stroke="#3a3a3a" stroke-width="0.9"/>
<line x1="494.70" y1="181.40" x2="498.30" y2="181.40" stroke="#3a3a3a" stroke-width="0.9"/>
<text x="496.50" y="194.40" font-size="9.4" text-anchor="middle" fill="#231f20" font-weight="normal" >Glycerol</text>
<line x1="532.20" y1="165.10" x2="532.20" y2="178.80" stroke="#3a3a3a" stroke-width="0.9"/>
<line x1="530.40" y1="165.10" x2="534.00" y2="165.10" stroke="#3a3a3a" stroke-width="0.9"/>
<line x1="530.40" y1="178.80" x2="534.00" y2="178.80" stroke="#3a3a3a" stroke-width="0.9"/>
<text x="534.20" y="194.40" font-size="9.4" text-anchor="middle" fill="#231f20" font-weight="normal" >Silicone</text>
<text x="534.20" y="205.40" font-size="9.4" text-anchor="middle" fill="#231f20" font-weight="normal" >oil</text>
<line x1="577.20" y1="63.20" x2="577.20" y2="113.50" stroke="#3a3a3a" stroke-width="0.9"/>
<line x1="575.40" y1="63.20" x2="579.00" y2="63.20" stroke="#3a3a3a" stroke-width="0.9"/>
<line x1="575.40" y1="113.50" x2="579.00" y2="113.50" stroke="#3a3a3a" stroke-width="0.9"/>
<text x="576.60" y="194.40" font-size="9.4" text-anchor="middle" fill="#231f20" font-weight="normal" >Immersion</text>
<text x="576.60" y="205.40" font-size="9.4" text-anchor="middle" fill="#231f20" font-weight="normal" >oil</text>
<line x1="622.10" y1="52.20" x2="622.10" y2="127.80" stroke="#3a3a3a" stroke-width="0.9"/>
<line x1="620.30" y1="52.20" x2="623.90" y2="52.20" stroke="#3a3a3a" stroke-width="0.9"/>
<line x1="620.30" y1="127.80" x2="623.90" y2="127.80" stroke="#3a3a3a" stroke-width="0.9"/>
<text x="622.10" y="194.40" font-size="9.4" text-anchor="middle" fill="#231f20" font-weight="normal" >Mineral</text>
<text x="622.10" y="205.40" font-size="9.4" text-anchor="middle" fill="#231f20" font-weight="normal" >oil</text>
<line x1="667.00" y1="17.30" x2="667.00" y2="72.40" stroke="#3a3a3a" stroke-width="0.9"/>
<line x1="665.20" y1="17.30" x2="668.80" y2="17.30" stroke="#3a3a3a" stroke-width="0.9"/>
<line x1="665.20" y1="72.40" x2="668.80" y2="72.40" stroke="#3a3a3a" stroke-width="0.9"/>
<text x="667.00" y="194.40" font-size="9.4" text-anchor="middle" fill="#231f20" font-weight="normal" >Oleic</text>
<text x="667.00" y="205.40" font-size="9.4" text-anchor="middle" fill="#231f20" font-weight="normal" >acid</text>
<g filter="url(#grainXS)"><rect x="478.3" y="16.0" width="75.7" height="67.8" fill="#adadad" filter="url(#blotch)"/></g>
<g filter="url(#grain)"><path d="M544.40,51.00 C544.57,54.90 543.47,59.59 541.06,62.93 C538.66,66.28 534.17,69.15 529.96,71.06 C525.75,72.97 520.61,74.26 515.80,74.40 C510.99,74.54 505.20,73.82 501.07,71.87 C496.94,69.92 493.30,66.18 491.03,62.70 C488.77,59.22 487.61,54.96 487.49,51.00 C487.36,47.04 487.88,42.23 490.29,38.95 C492.70,35.67 497.68,33.23 501.93,31.34 C506.18,29.45 511.03,27.80 515.80,27.60 C520.57,27.40 526.48,28.14 530.53,30.13 C534.57,32.12 537.76,36.06 540.07,39.53 C542.38,43.01 544.23,47.10 544.40,51.00 Z" fill="#a296bf"/></g>
<path d="M511.2,48.5 C511.5,46 514,45.6 516,46 C518.3,46.5 518.6,49 517.8,51 C517,53 514,53.3 512.4,52.2 C511.3,51.4 511,50 511.2,48.5 Z" fill="#111"/>
<rect x="532.2" y="78.7" width="17.8" height="2.2" fill="#000"/>
<text x="515.60" y="24.90" font-size="9.4" text-anchor="middle" fill="#111" font-weight="normal" >Oleic acid</text>
<g filter="url(#grainXS)"><rect x="478.6" y="86.4" width="75.4" height="68.1" fill="#b4b4b4" filter="url(#blotch)"/></g>
<g filter="url(#grainS)"><path d="M512,115 C513,112 518,112 519,115 C521,118 519,120 520,123 C520,126 516,127 515,124 C513,121 511,118 512,115 Z" fill="#a698c4"/></g>
<rect x="530.9" y="148.2" width="17.6" height="2.2" fill="#000"/>
<text x="517.00" y="101.80" font-size="9.4" text-anchor="middle" fill="#111" font-weight="normal" >Silicone oil</text>
<defs>
<radialGradient id="ptc" cx="40%" cy="35%" r="65%"><stop offset="0" stop-color="#e8e0fb"/><stop offset="0.55" stop-color="#c6b8ef"/><stop offset="1" stop-color="#9484d2"/></radialGradient>
<linearGradient id="bubLow" x1="0" y1="0" x2="0" y2="1"><stop offset="0" stop-color="#d8d4c6" stop-opacity="0.55"/><stop offset="1" stop-color="#ece7d6" stop-opacity="0.3"/></linearGradient>
</defs>
<path d="M48.10,279.00 L52.70,279.00 L55.50,306.50 L45.30,306.50 Z" fill="url(#beamD)"/>
<ellipse cx="51.10" cy="271.00" rx="47.10" ry="11.80" fill="url(#rim)"/>
<ellipse cx="50.70" cy="268.50" rx="47.10" ry="11.80" fill="url(#discTop)"/>
<circle cx="13.90" cy="266.80" r="2.0" fill="url(#ptc)"/>
<circle cx="24.10" cy="261.70" r="2.0" fill="url(#ptc)"/>
<circle cx="29.90" cy="266.50" r="2.0" fill="url(#ptc)"/>
<circle cx="19.30" cy="272.60" r="2.0" fill="url(#ptc)"/>
<circle cx="27.40" cy="273.40" r="2.0" fill="url(#ptc)"/>
<circle cx="42.00" cy="277.00" r="2.0" fill="url(#ptc)"/>
<circle cx="59.10" cy="277.00" r="2.0" fill="url(#ptc)"/>
<circle cx="72.00" cy="266.80" r="2.0" fill="url(#ptc)"/>
<circle cx="75.60" cy="259.90" r="2.0" fill="url(#ptc)"/>
<circle cx="81.30" cy="265.00" r="2.0" fill="url(#ptc)"/>
<circle cx="87.60" cy="262.40" r="2.0" fill="url(#ptc)"/>
<circle cx="78.10" cy="272.30" r="2.0" fill="url(#ptc)"/>
<circle cx="87.60" cy="270.90" r="2.0" fill="url(#ptc)"/>
<circle cx="31.80" cy="258.00" r="2.0" fill="url(#ptc)"/>
<circle cx="43.10" cy="256.60" r="2.0" fill="url(#ptc)"/>
<circle cx="56.20" cy="256.60" r="2.0" fill="url(#ptc)"/>
<circle cx="67.20" cy="257.30" r="2.0" fill="url(#ptc)"/>
<circle cx="40.90" cy="263.90" r="2.0" fill="url(#ptc)"/>
<circle cx="45.00" cy="263.00" r="2.0" fill="url(#ptc)"/>
<circle cx="49.00" cy="262.50" r="2.0" fill="url(#ptc)"/>
<circle cx="53.10" cy="262.50" r="2.0" fill="url(#ptc)"/>
<circle cx="57.20" cy="263.00" r="2.0" fill="url(#ptc)"/>
<circle cx="61.30" cy="263.90" r="2.0" fill="url(#ptc)"/>
<circle cx="37.20" cy="268.20" r="2.0" fill="url(#ptc)"/>
<circle cx="39.60" cy="270.00" r="2.0" fill="url(#ptc)"/>
<circle cx="43.10" cy="271.60" r="2.0" fill="url(#ptc)"/>
<circle cx="47.40" cy="272.20" r="2.0" fill="url(#ptc)"/>
<circle cx="51.80" cy="272.20" r="2.0" fill="url(#ptc)"/>
<circle cx="56.20" cy="271.90" r="2.0" fill="url(#ptc)"/>
<circle cx="59.90" cy="270.40" r="2.0" fill="url(#ptc)"/>
<circle cx="62.80" cy="268.70" r="2.0" fill="url(#ptc)"/>
<clipPath id="bupper"><rect x="0" y="200" width="120" height="54.6"/></clipPath>
<circle cx="51" cy="247.2" r="23.6" fill="url(#bubble)" clip-path="url(#bupper)"/>
<clipPath id="blower"><rect x="0" y="254.6" width="120" height="22"/></clipPath>
<circle cx="51" cy="247.2" r="23.6" fill="#cbc6b8" fill-opacity="0.5" clip-path="url(#blower)"/>
<circle cx="51" cy="247.2" r="23.3" fill="none" stroke="#8f8f8f" stroke-width="0.7"/>
<circle cx="43.10" cy="256.60" r="2.0" fill="url(#ptc)"/>
<circle cx="56.20" cy="256.60" r="2.0" fill="url(#ptc)"/>
<circle cx="67.20" cy="257.30" r="2.0" fill="url(#ptc)"/>
<circle cx="40.90" cy="263.90" r="2.0" fill="url(#ptc)"/>
<circle cx="45.00" cy="263.00" r="2.0" fill="url(#ptc)"/>
<circle cx="49.00" cy="262.50" r="2.0" fill="url(#ptc)"/>
<circle cx="53.10" cy="262.50" r="2.0" fill="url(#ptc)"/>
<circle cx="57.20" cy="263.00" r="2.0" fill="url(#ptc)"/>
<circle cx="61.30" cy="263.90" r="2.0" fill="url(#ptc)"/>
<path d="M24,277.3 C33,277.3 39.5,276 39.5,272 C39.5,270 37.5,269.5 35.5,269.8" fill="none" stroke="#4a4a4a" stroke-width="1"/>
<path d="M33.6,270.3 L36.6,268.3 L36.4,271.4 Z" fill="#444"/>
<path d="M77.4,276.6 C68,276.6 64.5,274.5 64.5,271.5 C64.5,269.5 66.5,268.5 68.5,268.5" fill="none" stroke="#4a4a4a" stroke-width="1"/>
<path d="M70.2,268.3 L67.2,266.6 L67.6,269.8 Z" fill="#444"/>
<text x="51.30" y="246.80" font-size="9.4" text-anchor="middle" fill="#111" font-weight="normal" >Bubble</text>
<text x="50.30" y="317.00" font-size="9.4" text-anchor="middle" fill="#231f20" font-weight="normal" >No surfactant</text>
<path d="M66.80,376.00 L69.80,376.00 L73.30,399.80 L63.30,399.80 Z" fill="url(#beamD)"/>
<ellipse cx="68.70" cy="365.50" rx="48.70" ry="13.00" fill="url(#rim)"/>
<ellipse cx="68.30" cy="363.00" rx="48.70" ry="13.00" fill="url(#discTop)"/>
<circle cx="47.20" cy="351.50" r="2.1" fill="url(#ptc)"/>
<circle cx="37.20" cy="357.20" r="2.1" fill="url(#ptc)"/>
<circle cx="29.10" cy="363.30" r="2.1" fill="url(#ptc)"/>
<circle cx="37.20" cy="368.80" r="2.1" fill="url(#ptc)"/>
<circle cx="48.00" cy="371.40" r="2.1" fill="url(#ptc)"/>
<circle cx="92.10" cy="351.80" r="2.1" fill="url(#ptc)"/>
<circle cx="102.40" cy="357.60" r="2.1" fill="url(#ptc)"/>
<circle cx="110.90" cy="361.90" r="2.1" fill="url(#ptc)"/>
<circle cx="104.00" cy="367.30" r="2.1" fill="url(#ptc)"/>
<circle cx="96.70" cy="370.20" r="2.1" fill="url(#ptc)"/>
<circle cx="87.90" cy="372.70" r="2.1" fill="url(#ptc)"/>
<circle cx="55.04" cy="353.60" r="1.7" fill="url(#ptc)"/>
<circle cx="58.34" cy="353.60" r="1.7" fill="url(#ptc)"/>
<circle cx="61.64" cy="353.60" r="1.7" fill="url(#ptc)"/>
<circle cx="64.94" cy="353.60" r="1.7" fill="url(#ptc)"/>
<circle cx="68.24" cy="353.60" r="1.7" fill="url(#ptc)"/>
<circle cx="71.54" cy="353.60" r="1.7" fill="url(#ptc)"/>
<circle cx="74.84" cy="353.60" r="1.7" fill="url(#ptc)"/>
<circle cx="78.14" cy="353.60" r="1.7" fill="url(#ptc)"/>
<circle cx="81.44" cy="353.60" r="1.7" fill="url(#ptc)"/>
<circle cx="49.53" cy="356.00" r="1.7" fill="url(#ptc)"/>
<circle cx="52.83" cy="356.00" r="1.7" fill="url(#ptc)"/>
<circle cx="56.13" cy="356.00" r="1.7" fill="url(#ptc)"/>
<circle cx="59.43" cy="356.00" r="1.7" fill="url(#ptc)"/>
<circle cx="62.73" cy="356.00" r="1.7" fill="url(#ptc)"/>
<circle cx="66.03" cy="356.00" r="1.7" fill="url(#ptc)"/>
<circle cx="69.33" cy="356.00" r="1.7" fill="url(#ptc)"/>
<circle cx="72.63" cy="356.00" r="1.7" fill="url(#ptc)"/>
<circle cx="75.93" cy="356.00" r="1.7" fill="url(#ptc)"/>
<circle cx="79.23" cy="356.00" r="1.7" fill="url(#ptc)"/>
<circle cx="82.53" cy="356.00" r="1.7" fill="url(#ptc)"/>
<circle cx="85.83" cy="356.00" r="1.7" fill="url(#ptc)"/>
<circle cx="89.13" cy="356.00" r="1.7" fill="url(#ptc)"/>
<circle cx="44.28" cy="358.40" r="1.7" fill="url(#ptc)"/>
<circle cx="47.58" cy="358.40" r="1.7" fill="url(#ptc)"/>
<circle cx="50.88" cy="358.40" r="1.7" fill="url(#ptc)"/>
<circle cx="54.18" cy="358.40" r="1.7" fill="url(#ptc)"/>
<circle cx="57.48" cy="358.40" r="1.7" fill="url(#ptc)"/>
<circle cx="60.78" cy="358.40" r="1.7" fill="url(#ptc)"/>
<circle cx="64.08" cy="358.40" r="1.7" fill="url(#ptc)"/>
<circle cx="67.38" cy="358.40" r="1.7" fill="url(#ptc)"/>
<circle cx="70.68" cy="358.40" r="1.7" fill="url(#ptc)"/>
<circle cx="73.98" cy="358.40" r="1.7" fill="url(#ptc)"/>
<circle cx="77.28" cy="358.40" r="1.7" fill="url(#ptc)"/>
<circle cx="80.58" cy="358.40" r="1.7" fill="url(#ptc)"/>
<circle cx="83.88" cy="358.40" r="1.7" fill="url(#ptc)"/>
<circle cx="87.18" cy="358.40" r="1.7" fill="url(#ptc)"/>
<circle cx="90.48" cy="358.40" r="1.7" fill="url(#ptc)"/>
<circle cx="44.45" cy="360.80" r="1.7" fill="url(#ptc)"/>
<circle cx="47.75" cy="360.80" r="1.7" fill="url(#ptc)"/>
<circle cx="51.05" cy="360.80" r="1.7" fill="url(#ptc)"/>
<circle cx="54.35" cy="360.80" r="1.7" fill="url(#ptc)"/>
<circle cx="57.65" cy="360.80" r="1.7" fill="url(#ptc)"/>
<circle cx="60.95" cy="360.80" r="1.7" fill="url(#ptc)"/>
<circle cx="64.25" cy="360.80" r="1.7" fill="url(#ptc)"/>
<circle cx="67.55" cy="360.80" r="1.7" fill="url(#ptc)"/>
<circle cx="70.85" cy="360.80" r="1.7" fill="url(#ptc)"/>
<circle cx="74.15" cy="360.80" r="1.7" fill="url(#ptc)"/>
<circle cx="77.45" cy="360.80" r="1.7" fill="url(#ptc)"/>
<circle cx="80.75" cy="360.80" r="1.7" fill="url(#ptc)"/>
<circle cx="84.05" cy="360.80" r="1.7" fill="url(#ptc)"/>
<circle cx="87.35" cy="360.80" r="1.7" fill="url(#ptc)"/>
<circle cx="90.65" cy="360.80" r="1.7" fill="url(#ptc)"/>
<circle cx="93.95" cy="360.80" r="1.7" fill="url(#ptc)"/>
<circle cx="43.09" cy="363.20" r="1.7" fill="url(#ptc)"/>
<circle cx="46.39" cy="363.20" r="1.7" fill="url(#ptc)"/>
<circle cx="49.69" cy="363.20" r="1.7" fill="url(#ptc)"/>
<circle cx="52.99" cy="363.20" r="1.7" fill="url(#ptc)"/>
<circle cx="56.29" cy="363.20" r="1.7" fill="url(#ptc)"/>
<circle cx="59.59" cy="363.20" r="1.7" fill="url(#ptc)"/>
<circle cx="62.89" cy="363.20" r="1.7" fill="url(#ptc)"/>
<circle cx="66.19" cy="363.20" r="1.7" fill="url(#ptc)"/>
<circle cx="69.49" cy="363.20" r="1.7" fill="url(#ptc)"/>
<circle cx="72.79" cy="363.20" r="1.7" fill="url(#ptc)"/>
<circle cx="76.09" cy="363.20" r="1.7" fill="url(#ptc)"/>
<circle cx="79.39" cy="363.20" r="1.7" fill="url(#ptc)"/>
<circle cx="82.69" cy="363.20" r="1.7" fill="url(#ptc)"/>
<circle cx="85.99" cy="363.20" r="1.7" fill="url(#ptc)"/>
<circle cx="89.29" cy="363.20" r="1.7" fill="url(#ptc)"/>
<circle cx="92.59" cy="363.20" r="1.7" fill="url(#ptc)"/>
<circle cx="46.86" cy="365.60" r="1.7" fill="url(#ptc)"/>
<circle cx="50.16" cy="365.60" r="1.7" fill="url(#ptc)"/>
<circle cx="53.46" cy="365.60" r="1.7" fill="url(#ptc)"/>
<circle cx="56.76" cy="365.60" r="1.7" fill="url(#ptc)"/>
<circle cx="60.06" cy="365.60" r="1.7" fill="url(#ptc)"/>
<circle cx="63.36" cy="365.60" r="1.7" fill="url(#ptc)"/>
<circle cx="66.66" cy="365.60" r="1.7" fill="url(#ptc)"/>
<circle cx="69.96" cy="365.60" r="1.7" fill="url(#ptc)"/>
<circle cx="73.26" cy="365.60" r="1.7" fill="url(#ptc)"/>
<circle cx="76.56" cy="365.60" r="1.7" fill="url(#ptc)"/>
<circle cx="79.86" cy="365.60" r="1.7" fill="url(#ptc)"/>
<circle cx="83.16" cy="365.60" r="1.7" fill="url(#ptc)"/>
<circle cx="86.46" cy="365.60" r="1.7" fill="url(#ptc)"/>
<circle cx="89.76" cy="365.60" r="1.7" fill="url(#ptc)"/>
<circle cx="49.73" cy="368.00" r="1.7" fill="url(#ptc)"/>
<circle cx="53.03" cy="368.00" r="1.7" fill="url(#ptc)"/>
<circle cx="56.33" cy="368.00" r="1.7" fill="url(#ptc)"/>
<circle cx="59.63" cy="368.00" r="1.7" fill="url(#ptc)"/>
<circle cx="62.93" cy="368.00" r="1.7" fill="url(#ptc)"/>
<circle cx="66.23" cy="368.00" r="1.7" fill="url(#ptc)"/>
<circle cx="69.53" cy="368.00" r="1.7" fill="url(#ptc)"/>
<circle cx="72.83" cy="368.00" r="1.7" fill="url(#ptc)"/>
<circle cx="76.13" cy="368.00" r="1.7" fill="url(#ptc)"/>
<circle cx="79.43" cy="368.00" r="1.7" fill="url(#ptc)"/>
<circle cx="82.73" cy="368.00" r="1.7" fill="url(#ptc)"/>
<circle cx="86.03" cy="368.00" r="1.7" fill="url(#ptc)"/>
<path d="M67.7,354 L68.3,354 L69.4,376 L66.6,376 Z" fill="#f08aa3" fill-opacity="0.25"/>
<defs><radialGradient id="bub2" cx="50%" cy="30%" r="60%"><stop offset="0" stop-color="#ffffff" stop-opacity="0.95"/><stop offset="0.5" stop-color="#f4f4f4" stop-opacity="0.55"/><stop offset="1" stop-color="#d0d0d0" stop-opacity="0.6"/></radialGradient></defs>
<circle cx="67.9" cy="355.3" r="10.7" fill="url(#bub2)"/>
<circle cx="67.9" cy="355.3" r="10.5" fill="none" stroke="#8e8e8e" stroke-width="0.6"/>
<line x1="35" y1="361.5" x2="40.89" y2="363.11" stroke="#444" stroke-width="0.8"/>
<path d="M43.4,363.8 L40.52,364.46 L41.26,361.76 Z" fill="#444"/>
<line x1="54.9" y1="375" x2="59.43" y2="372.97" stroke="#444" stroke-width="0.8"/>
<path d="M61.8,371.9 L60.00,374.24 L58.85,371.69 Z" fill="#444"/>
<line x1="82.5" y1="374.5" x2="78.07" y2="373.02" stroke="#444" stroke-width="0.8"/>
<path d="M75.6,372.2 L78.51,371.69 L77.62,374.35 Z" fill="#444"/>
<line x1="105.5" y1="360" x2="100.35" y2="361.00" stroke="#444" stroke-width="0.8"/>
<path d="M97.8,361.5 L100.08,359.63 L100.62,362.38 Z" fill="#444"/>
<text x="67.90" y="340.00" font-size="9.4" text-anchor="middle" fill="#111" font-weight="normal" >Bubble</text>
<text x="67.50" y="410.50" font-size="9.4" text-anchor="middle" fill="#231f20" font-weight="normal" >With surfactant</text>
<rect x="169.5" y="226.5" width="214.0" height="172.5" fill="none" stroke="#9c9c9c" stroke-width="1"/>
<line x1="166.30" y1="399.00" x2="169.50" y2="399.00" stroke="#9c9c9c" stroke-width="1" />
<text x="162.80" y="402.00" font-size="9.4" text-anchor="end" fill="#231f20" font-weight="normal" >0</text>
<line x1="166.30" y1="364.53" x2="169.50" y2="364.53" stroke="#9c9c9c" stroke-width="1" />
<text x="162.80" y="367.53" font-size="9.4" text-anchor="end" fill="#231f20" font-weight="normal" >1.5</text>
<line x1="166.30" y1="330.06" x2="169.50" y2="330.06" stroke="#9c9c9c" stroke-width="1" />
<text x="162.80" y="333.06" font-size="9.4" text-anchor="end" fill="#231f20" font-weight="normal" >3.0</text>
<line x1="166.30" y1="295.59" x2="169.50" y2="295.59" stroke="#9c9c9c" stroke-width="1" />
<text x="162.80" y="298.59" font-size="9.4" text-anchor="end" fill="#231f20" font-weight="normal" >4.5</text>
<line x1="166.30" y1="261.12" x2="169.50" y2="261.12" stroke="#9c9c9c" stroke-width="1" />
<text x="162.80" y="264.12" font-size="9.4" text-anchor="end" fill="#231f20" font-weight="normal" >6.0</text>
<line x1="166.30" y1="226.65" x2="169.50" y2="226.65" stroke="#9c9c9c" stroke-width="1" />
<text x="162.80" y="229.65" font-size="9.4" text-anchor="end" fill="#231f20" font-weight="normal" >7.5</text>
<line x1="380.50" y1="399.00" x2="383.50" y2="399.00" stroke="#9c9c9c" stroke-width="1" />
<text x="387.30" y="402.00" font-size="9.4" text-anchor="start" fill="#231f20" font-weight="normal" >0</text>
<line x1="380.50" y1="367.52" x2="383.50" y2="367.52" stroke="#9c9c9c" stroke-width="1" />
<text x="387.30" y="370.52" font-size="9.4" text-anchor="start" fill="#231f20" font-weight="normal" >2.0</text>
<line x1="380.50" y1="336.04" x2="383.50" y2="336.04" stroke="#9c9c9c" stroke-width="1" />
<text x="387.30" y="339.04" font-size="9.4" text-anchor="start" fill="#231f20" font-weight="normal" >4.0</text>
<line x1="380.50" y1="304.56" x2="383.50" y2="304.56" stroke="#9c9c9c" stroke-width="1" />
<text x="387.30" y="307.56" font-size="9.4" text-anchor="start" fill="#231f20" font-weight="normal" >6.0</text>
<line x1="380.50" y1="273.08" x2="383.50" y2="273.08" stroke="#9c9c9c" stroke-width="1" />
<text x="387.30" y="276.08" font-size="9.4" text-anchor="start" fill="#231f20" font-weight="normal" >8.0</text>
<line x1="380.50" y1="241.60" x2="383.50" y2="241.60" stroke="#9c9c9c" stroke-width="1" />
<text x="387.30" y="244.60" font-size="9.4" text-anchor="start" fill="#231f20" font-weight="normal" >10.0</text>
<line x1="186.60" y1="399.00" x2="186.60" y2="402.00" stroke="#9c9c9c" stroke-width="1" />
<text transform="translate(191.40,408.90) rotate(-45)" font-size="9.4" text-anchor="end" fill="#231f20">H<tspan font-size="6" dy="2">2</tspan><tspan dy="-2">O</tspan></text>
<line x1="243.00" y1="399.00" x2="243.00" y2="402.00" stroke="#9c9c9c" stroke-width="1" />
<text transform="translate(247.80,408.90) rotate(-45)" font-size="9.4" text-anchor="end" fill="#231f20">0.01</text>
<line x1="299.40" y1="399.00" x2="299.40" y2="402.00" stroke="#9c9c9c" stroke-width="1" />
<text transform="translate(304.20,408.90) rotate(-45)" font-size="9.4" text-anchor="end" fill="#231f20">0.10</text>
<line x1="338.82" y1="399.00" x2="338.82" y2="402.00" stroke="#9c9c9c" stroke-width="1" />
<text transform="translate(343.62,408.90) rotate(-45)" font-size="9.4" text-anchor="end" fill="#231f20">0.50</text>
<line x1="355.80" y1="399.00" x2="355.80" y2="402.00" stroke="#9c9c9c" stroke-width="1" />
<text transform="translate(360.60,408.90) rotate(-45)" font-size="9.4" text-anchor="end" fill="#231f20">1.00</text>
<line x1="226.02" y1="399.00" x2="226.02" y2="401.00" stroke="#9c9c9c" stroke-width="1" />
<line x1="282.42" y1="399.00" x2="282.42" y2="401.00" stroke="#9c9c9c" stroke-width="1" />
<text x="276.40" y="437.80" font-size="9.4" text-anchor="middle" fill="#231f20" font-weight="normal" >Concentration of CTAB (mM)</text>
<text transform="translate(141.9,352.6) rotate(-90)" font-size="9.15" text-anchor="start" fill="#231f20">Cluster area (×10<tspan font-size="6.4" baseline-shift="4.1">3</tspan> μm<tspan font-size="6.4" baseline-shift="4.1">2</tspan>)</text>
<line x1="138.40" y1="355.90" x2="138.40" y2="368.20" stroke="#c58cf5" stroke-width="1.1" />
<text transform="translate(418.3,357.0) rotate(-90)" font-size="9.25" text-anchor="start" fill="#231f20">Flow speed (×10<tspan font-size="6.4" baseline-shift="4.1">3</tspan> μm s<tspan font-size="6.4" baseline-shift="4.1">−1</tspan>)</text>
<line x1="414.10" y1="360.00" x2="414.10" y2="372.30" stroke="#555" stroke-width="1.1" />
<defs>
<radialGradient id="halo" cx="50%" cy="42%" r="55%">
 <stop offset="0" stop-color="#3c3c3c"/><stop offset="0.55" stop-color="#3f3f3f"/><stop offset="0.8" stop-color="#4a4a4a"/><stop offset="0.92" stop-color="#5a5a5a"/><stop offset="1" stop-color="#6a6a6a"/>
</radialGradient>
<filter id="soft2" x="-20%" y="-20%" width="140%" height="140%"><feGaussianBlur stdDeviation="1.4"/></filter>
<filter id="soft" x="-20%" y="-20%" width="140%" height="140%"><feGaussianBlur stdDeviation="0.7"/></filter>
<linearGradient id="wbg" x1="0" y1="0" x2="1" y2="0.6"><stop offset="0" stop-color="#8a8a8a"/><stop offset="1" stop-color="#a0a0a0"/></linearGradient>
<radialGradient id="winner" cx="50%" cy="50%" r="50%"><stop offset="0" stop-color="#808080"/><stop offset="0.3" stop-color="#686868"/><stop offset="0.8" stop-color="#5e5e5e"/><stop offset="1" stop-color="#565656"/></radialGradient>
<radialGradient id="hole" cx="50%" cy="50%" r="50%"><stop offset="0" stop-color="#0c0c0c"/><stop offset="0.75" stop-color="#151515"/><stop offset="0.9" stop-color="#303030"/><stop offset="1" stop-color="#555" stop-opacity="0.3"/></radialGradient>
<radialGradient id="wdot" cx="50%" cy="50%" r="50%"><stop offset="0" stop-color="#fff"/><stop offset="0.6" stop-color="#fff"/><stop offset="1" stop-color="#fff" stop-opacity="0.2"/></radialGradient>
</defs>
<rect x="199" y="231.9" width="70.5" height="59.5" fill="url(#wbg)"/>
<ellipse cx="233.7" cy="256.3" rx="19.8" ry="21.4" fill="url(#halo)" filter="url(#soft2)"/>
<defs><linearGradient id="rimg" x1="0" y1="0" x2="0" y2="1"><stop offset="0" stop-color="#b6b6b6" stop-opacity="0"/><stop offset="0.45" stop-color="#b6b6b6" stop-opacity="0.55"/><stop offset="1" stop-color="#bcbcbc" stop-opacity="0.75"/></linearGradient></defs>
<path d="M214.0,258 A19.9,21.6 0 0 0 253.4,258" fill="none" stroke="url(#rimg)" stroke-width="1.1" filter="url(#soft)"/>
<circle cx="234.2" cy="261.5" r="10.4" fill="url(#winner)" stroke="#3b3052" stroke-width="0.55"/>
<circle cx="233.3" cy="261" r="3.2" fill="url(#wdot)"/>
<rect x="249.8" y="287" width="16.2" height="2" fill="#fff"/>
<text x="234.20" y="301.20" font-size="9.4" text-anchor="middle" fill="#231f20" font-weight="normal" >Water</text>
<rect x="271.4" y="231.9" width="70.9" height="59.5" fill="#8e8e8e" filter="url(#grain)"/>
<g filter="url(#grain)"><path d="M291.50,234.30 C297.47,232.52 310.77,232.42 317.20,233.60 C323.63,234.78 326.77,237.95 330.10,241.40 C333.43,244.85 335.82,250.23 337.20,254.30 C338.58,258.37 338.75,261.98 338.40,265.80 C338.05,269.62 336.97,273.75 335.10,277.20 C333.23,280.65 330.18,284.40 327.20,286.50 C324.22,288.60 321.97,289.32 317.20,289.80 C312.43,290.28 303.85,290.78 298.60,289.40 C293.35,288.02 289.40,284.73 285.70,281.50 C282.00,278.27 278.07,274.28 276.40,270.00 C274.73,265.72 274.87,260.08 275.70,255.80 C276.53,251.52 278.77,247.88 281.40,244.30 C284.03,240.72 285.53,236.08 291.50,234.30 Z" fill="#706886"/></g>
<ellipse cx="307.5" cy="252.9" rx="10.3" ry="11.6" fill="url(#hole)"/>
<circle cx="307.5" cy="259.6" r="3.0" fill="url(#wdot)"/>
<rect x="322.3" y="287.4" width="15.4" height="1.8" fill="#fff"/>
<text x="307.10" y="302.00" font-size="9.4" text-anchor="middle" fill="#231f20" font-weight="normal" >1 mM CTAB</text>
<path d="M186.60,284.90 L188.03,286.20 L189.46,287.50 L190.88,288.81 L192.31,290.12 L193.74,291.44 L195.17,292.76 L196.59,294.08 L198.02,295.40 L199.45,296.73 L200.88,298.06 L202.31,299.40 L203.73,300.74 L205.16,302.08 L206.59,303.42 L208.02,304.77 L209.44,306.12 L210.87,307.47 L212.30,308.83 L213.73,310.19 L215.15,311.55 L216.58,312.91 L218.01,314.28 L219.44,315.65 L220.87,317.02 L222.29,318.40 L223.72,319.78 L225.15,321.16 L226.58,322.54 L228.00,323.92 L229.43,325.31 L230.86,326.70 L232.29,328.09 L233.72,329.48 L235.14,330.88 L236.57,332.28 L238.00,333.68 L239.43,335.08 L240.85,336.49 L242.28,337.89 L243.71,339.30 L245.14,340.75 L246.56,342.23 L247.99,343.73 L249.42,345.25 L250.85,346.79 L252.28,348.34 L253.70,349.89 L255.13,351.44 L256.56,352.98 L257.99,354.50 L259.41,356.01 L260.84,357.49 L262.27,358.94 L263.70,360.35 L265.13,361.72 L266.55,363.04 L267.98,364.31 L269.41,365.52 L270.84,366.67 L272.26,367.82 L273.69,368.96 L275.12,370.09 L276.55,371.20 L277.97,372.31 L279.40,373.40 L280.83,374.47 L282.26,375.52 L283.69,376.54 L285.11,377.54 L286.54,378.51 L287.97,379.44 L289.40,380.35 L290.82,381.21 L292.25,382.04 L293.68,382.83 L295.11,383.57 L296.54,384.26 L297.96,384.90 L299.39,385.50 L300.82,386.05 L302.25,386.58 L303.67,387.09 L305.10,387.57 L306.53,388.03 L307.96,388.48 L309.38,388.90 L310.81,389.30 L312.24,389.69 L313.67,390.06 L315.10,390.41 L316.52,390.74 L317.95,391.07 L319.38,391.37 L320.81,391.66 L322.23,391.94 L323.66,392.21 L325.09,392.47 L326.52,392.72 L327.95,392.96 L329.37,393.19 L330.80,393.41 L332.23,393.62 L333.66,393.82 L335.08,394.02 L336.51,394.21 L337.94,394.39 L339.37,394.57 L340.79,394.74 L342.22,394.91 L343.65,395.08 L345.08,395.24 L346.51,395.39 L347.93,395.54 L349.36,395.68 L350.79,395.82 L352.22,395.95 L353.64,396.07 L355.07,396.19 L356.50,396.30" fill="none" stroke="#555555" stroke-width="1.3"/>
<path d="M186.60,391.50 L187.46,391.60 L188.31,391.70 L189.17,391.80 L190.03,391.89 L190.89,391.98 L191.74,392.06 L192.60,392.14 L193.46,392.21 L194.32,392.28 L195.17,392.35 L196.03,392.41 L196.89,392.47 L197.74,392.52 L198.60,392.57 L199.46,392.62 L200.32,392.67 L201.17,392.71 L202.03,392.75 L202.89,392.78 L203.75,392.81 L204.60,392.84 L205.46,392.87 L206.32,392.89 L207.17,392.92 L208.03,392.93 L208.89,392.95 L209.75,392.96 L210.60,392.97 L211.46,392.98 L212.32,392.99 L213.18,393.00 L214.03,393.00 L214.89,393.00 L215.75,393.00 L216.61,392.99 L217.46,392.97 L218.32,392.95 L219.18,392.92 L220.03,392.89 L220.89,392.85 L221.75,392.81 L222.61,392.76 L223.46,392.70 L224.32,392.64 L225.18,392.58 L226.04,392.51 L226.89,392.44 L227.75,392.36 L228.61,392.28 L229.46,392.19 L230.32,392.10 L231.18,392.01 L232.04,391.92 L232.89,391.82 L233.75,391.72 L234.61,391.61 L235.47,391.51 L236.32,391.40 L237.18,391.29 L238.04,391.18 L238.89,391.06 L239.75,390.95 L240.61,390.83 L241.47,390.71 L242.32,390.59 L243.18,390.47 L244.04,390.34 L244.90,390.20 L245.75,390.04 L246.61,389.87 L247.47,389.69 L248.32,389.49 L249.18,389.29 L250.04,389.07 L250.90,388.84 L251.75,388.60 L252.61,388.35 L253.47,388.10 L254.33,387.83 L255.18,387.56 L256.04,387.27 L256.90,386.98 L257.75,386.69 L258.61,386.39 L259.47,386.08 L260.33,385.76 L261.18,385.45 L262.04,385.12 L262.90,384.80 L263.76,384.46 L264.61,384.13 L265.47,383.80 L266.33,383.46 L267.18,383.12 L268.04,382.78 L268.90,382.44 L269.76,382.10 L270.61,381.75 L271.47,381.40 L272.33,381.04 L273.19,380.66 L274.04,380.28 L274.90,379.89 L275.76,379.49 L276.62,379.08 L277.47,378.66 L278.33,378.23 L279.19,377.80 L280.04,377.36 L280.90,376.91 L281.76,376.45 L282.62,375.99 L283.47,375.52 L284.33,375.05 L285.19,374.56 L286.05,374.08 L286.90,373.59 L287.76,373.09 L288.62,372.59 L289.47,372.08 L290.33,371.57 L291.19,371.06 L292.05,370.54 L292.90,370.02 L293.76,369.50 L294.62,368.97 L295.48,368.44 L296.33,367.91 L297.19,367.38 L298.05,366.85 L298.90,366.31 L299.76,365.77 L300.62,365.24 L301.48,364.71 L302.33,364.19 L303.19,363.66 L304.05,363.13 L304.91,362.60 L305.76,362.07 L306.62,361.53 L307.48,360.99 L308.33,360.43 L309.19,359.87 L310.05,359.30 L310.91,358.72 L311.76,358.12 L312.62,357.51 L313.48,356.88 L314.34,356.24 L315.19,355.57 L316.05,354.89 L316.91,354.19 L317.76,353.46 L318.62,352.71 L319.48,351.94 L320.34,351.13 L321.19,350.30 L322.05,349.45 L322.91,348.57 L323.77,347.68 L324.62,346.75 L325.48,345.80 L326.34,344.81 L327.19,343.79 L328.05,342.71 L328.91,341.59 L329.77,340.41 L330.62,339.17 L331.48,337.87 L332.34,336.50 L333.20,335.06 L334.05,333.54 L334.91,331.94 L335.77,330.25 L336.63,328.47 L337.48,326.59 L338.34,324.61 L339.20,322.44 L340.05,319.55 L340.91,316.00 L341.77,311.98 L342.63,307.65 L343.48,303.21 L344.34,298.82 L345.20,294.68 L346.06,290.96 L346.91,287.74 L347.77,284.83 L348.63,282.11 L349.48,279.50 L350.34,276.92 L351.20,274.27 L352.06,271.48 L352.91,268.46 L353.77,265.12 L354.63,261.31 L355.49,257.01 L356.34,252.32 L357.20,247.00" fill="none" stroke="#c38bf6" stroke-width="1.3"/>
<line x1="186.60" y1="250.70" x2="186.60" y2="319.20" stroke="#555555" stroke-width="1.1"/>
<line x1="184.70" y1="250.70" x2="188.50" y2="250.70" stroke="#555555" stroke-width="1.1"/>
<line x1="184.70" y1="319.20" x2="188.50" y2="319.20" stroke="#555555" stroke-width="1.1"/>
<path d="M186.60,282.10 L189.40,284.90 L186.60,287.70 L183.80,284.90 Z" fill="#555555"/>
<line x1="243.00" y1="328.50" x2="243.00" y2="350.30" stroke="#555555" stroke-width="1.1"/>
<line x1="241.10" y1="328.50" x2="244.90" y2="328.50" stroke="#555555" stroke-width="1.1"/>
<line x1="241.10" y1="350.30" x2="244.90" y2="350.30" stroke="#555555" stroke-width="1.1"/>
<path d="M243.00,336.30 L245.80,339.10 L243.00,341.90 L240.20,339.10 Z" fill="#555555"/>
<line x1="299.40" y1="385.50" x2="299.40" y2="394.90" stroke="#555555" stroke-width="1.1"/>
<line x1="297.50" y1="385.50" x2="301.30" y2="385.50" stroke="#555555" stroke-width="1.1"/>
<line x1="297.50" y1="394.90" x2="301.30" y2="394.90" stroke="#555555" stroke-width="1.1"/>
<path d="M299.40,387.60 L302.20,390.40 L299.40,393.20 L296.60,390.40 Z" fill="#555555"/>
<line x1="338.82" y1="391.00" x2="338.82" y2="396.60" stroke="#555555" stroke-width="1.1"/>
<line x1="336.92" y1="391.00" x2="340.72" y2="391.00" stroke="#555555" stroke-width="1.1"/>
<line x1="336.92" y1="396.60" x2="340.72" y2="396.60" stroke="#555555" stroke-width="1.1"/>
<path d="M338.82,391.10 L341.62,393.90 L338.82,396.70 L336.02,393.90 Z" fill="#555555"/>
<line x1="355.80" y1="395.00" x2="355.80" y2="397.80" stroke="#555555" stroke-width="1.1"/>
<line x1="353.90" y1="395.00" x2="357.70" y2="395.00" stroke="#555555" stroke-width="1.1"/>
<line x1="353.90" y1="397.80" x2="357.70" y2="397.80" stroke="#555555" stroke-width="1.1"/>
<path d="M355.80,393.60 L358.60,396.40 L355.80,399.20 L353.00,396.40 Z" fill="#555555"/>
<circle cx="186.60" cy="391.30" r="2.2" fill="#c38bf6"/>
<circle cx="243.00" cy="393.90" r="2.2" fill="#c38bf6"/>
<line x1="299.40" y1="362.30" x2="299.40" y2="376.70" stroke="#c38bf6" stroke-width="1.1"/>
<line x1="297.50" y1="362.30" x2="301.30" y2="362.30" stroke="#c38bf6" stroke-width="1.1"/>
<line x1="297.50" y1="376.70" x2="301.30" y2="376.70" stroke="#c38bf6" stroke-width="1.1"/>
<circle cx="299.40" cy="369.40" r="1.9" fill="#e6d2fb" stroke="#c38bf6" stroke-width="0.9"/>
<line x1="338.82" y1="323.80" x2="338.82" y2="352.00" stroke="#c38bf6" stroke-width="1.1"/>
<line x1="336.92" y1="323.80" x2="340.72" y2="323.80" stroke="#c38bf6" stroke-width="1.1"/>
<line x1="336.92" y1="352.00" x2="340.72" y2="352.00" stroke="#c38bf6" stroke-width="1.1"/>
<circle cx="338.82" cy="338.10" r="1.9" fill="#e6d2fb" stroke="#c38bf6" stroke-width="0.9"/>
<line x1="355.80" y1="235.80" x2="355.80" y2="266.00" stroke="#c38bf6" stroke-width="1.1"/>
<line x1="353.90" y1="235.80" x2="357.70" y2="235.80" stroke="#c38bf6" stroke-width="1.1"/>
<line x1="353.90" y1="266.00" x2="357.70" y2="266.00" stroke="#c38bf6" stroke-width="1.1"/>
<circle cx="355.80" cy="251.20" r="1.9" fill="#e6d2fb" stroke="#c38bf6" stroke-width="0.9"/>
<line x1="469.60" y1="224.30" x2="469.60" y2="398.20" stroke="#7c7c7c" stroke-width="1" />
<line x1="469.60" y1="398.50" x2="683.50" y2="398.50" stroke="#7c7c7c" stroke-width="1" />
<line x1="466.60" y1="398.20" x2="469.60" y2="398.20" stroke="#7c7c7c" stroke-width="1" />
<text x="463.00" y="401.20" font-size="9.4" text-anchor="end" fill="#231f20" font-weight="normal" >0</text>
<line x1="466.60" y1="369.45" x2="469.60" y2="369.45" stroke="#7c7c7c" stroke-width="1" />
<text x="463.00" y="372.45" font-size="9.4" text-anchor="end" fill="#231f20" font-weight="normal" >0.5</text>
<line x1="466.60" y1="340.70" x2="469.60" y2="340.70" stroke="#7c7c7c" stroke-width="1" />
<text x="463.00" y="343.70" font-size="9.4" text-anchor="end" fill="#231f20" font-weight="normal" >1.0</text>
<line x1="466.60" y1="311.95" x2="469.60" y2="311.95" stroke="#7c7c7c" stroke-width="1" />
<text x="463.00" y="314.95" font-size="9.4" text-anchor="end" fill="#231f20" font-weight="normal" >1.5</text>
<line x1="466.60" y1="283.20" x2="469.60" y2="283.20" stroke="#7c7c7c" stroke-width="1" />
<text x="463.00" y="286.20" font-size="9.4" text-anchor="end" fill="#231f20" font-weight="normal" >2.0</text>
<line x1="466.60" y1="254.45" x2="469.60" y2="254.45" stroke="#7c7c7c" stroke-width="1" />
<text x="463.00" y="257.45" font-size="9.4" text-anchor="end" fill="#231f20" font-weight="normal" >2.5</text>
<line x1="466.60" y1="225.70" x2="469.60" y2="225.70" stroke="#7c7c7c" stroke-width="1" />
<text x="463.00" y="228.70" font-size="9.4" text-anchor="end" fill="#231f20" font-weight="normal" >3.0</text>
<text transform="translate(441.60,312.10) rotate(-90)" x="0" y="0" font-size="9.15" text-anchor="middle" fill="#231f20">Cluster area (×10<tspan font-size="6.4" baseline-shift="4.1">3</tspan> μm<tspan font-size="6.4" baseline-shift="4.1">2</tspan>)</text>
<rect x="482.70" y="380.50" width="27.00" height="17.70" fill="#8f8f8f"/>
<rect x="536.10" y="329.00" width="27.00" height="69.20" fill="#8f8f8f"/>
<rect x="589.90" y="309.80" width="27.00" height="88.40" fill="#8f8f8f"/>
<rect x="643.30" y="253.90" width="27.00" height="144.30" fill="#8f8f8f"/>
<line x1="496.20" y1="378.80" x2="496.20" y2="382.10" stroke="#3a3a3a" stroke-width="0.9"/>
<line x1="494.10" y1="378.80" x2="498.30" y2="378.80" stroke="#3a3a3a" stroke-width="0.9"/>
<line x1="494.10" y1="382.10" x2="498.30" y2="382.10" stroke="#3a3a3a" stroke-width="0.9"/>
<line x1="496.20" y1="398.20" x2="496.20" y2="401.20" stroke="#7c7c7c" stroke-width="1" />
<text x="496.20" y="412.90" font-size="9.4" text-anchor="middle" fill="#231f20" font-weight="normal" >Water</text>
<line x1="549.60" y1="317.20" x2="549.60" y2="339.90" stroke="#3a3a3a" stroke-width="0.9"/>
<line x1="547.50" y1="317.20" x2="551.70" y2="317.20" stroke="#3a3a3a" stroke-width="0.9"/>
<line x1="547.50" y1="339.90" x2="551.70" y2="339.90" stroke="#3a3a3a" stroke-width="0.9"/>
<line x1="549.60" y1="398.20" x2="549.60" y2="401.20" stroke="#7c7c7c" stroke-width="1" />
<text x="549.60" y="412.90" font-size="9.4" text-anchor="middle" fill="#231f20" font-weight="normal" >PF108</text>
<line x1="603.40" y1="298.70" x2="603.40" y2="321.00" stroke="#3a3a3a" stroke-width="0.9"/>
<line x1="601.30" y1="298.70" x2="605.50" y2="298.70" stroke="#3a3a3a" stroke-width="0.9"/>
<line x1="601.30" y1="321.00" x2="605.50" y2="321.00" stroke="#3a3a3a" stroke-width="0.9"/>
<line x1="603.40" y1="398.20" x2="603.40" y2="401.20" stroke="#7c7c7c" stroke-width="1" />
<text x="603.40" y="412.90" font-size="9.4" text-anchor="middle" fill="#231f20" font-weight="normal" >PEG</text>
<line x1="656.80" y1="240.80" x2="656.80" y2="266.60" stroke="#3a3a3a" stroke-width="0.9"/>
<line x1="654.70" y1="240.80" x2="658.90" y2="240.80" stroke="#3a3a3a" stroke-width="0.9"/>
<line x1="654.70" y1="266.60" x2="658.90" y2="266.60" stroke="#3a3a3a" stroke-width="0.9"/>
<line x1="656.80" y1="398.20" x2="656.80" y2="401.20" stroke="#7c7c7c" stroke-width="1" />
<text x="656.80" y="412.90" font-size="9.4" text-anchor="middle" fill="#231f20" font-weight="normal" >SDS</text>
<rect x="479.2" y="232.2" width="60.9" height="53.9" fill="#a6a6a6" filter="url(#grain)"/>
<g filter="url(#grainS)"><path d="M510.00,246.80 C511.55,246.75 516.40,248.43 517.50,249.50 C518.60,250.57 520.90,255.90 521.00,257.50 C521.10,259.10 519.55,264.35 518.50,265.50 C517.45,266.65 512.10,268.95 510.50,269.00 C508.90,269.05 503.65,267.10 502.50,266.00 C501.35,264.90 499.05,259.60 499.00,258.00 C498.95,256.40 500.90,251.12 502.00,250.00 C503.10,248.88 508.45,246.85 510.00,246.80 Z" fill="#9186b0"/></g>
<ellipse cx="509.6" cy="257.6" rx="4.6" ry="5.0" fill="#151515"/>
<rect x="507.0" y="254.3" width="5.8" height="6.8" rx="1.6" fill="#fff"/>
<rect x="519" y="281" width="16.7" height="2" fill="#000"/>
<text x="510.10" y="296.20" font-size="9.4" text-anchor="middle" fill="#231f20" font-weight="normal" >PF108</text>
<rect x="541" y="232.2" width="60.8" height="53.9" fill="#a8a8a8" filter="url(#grain)"/>
<g filter="url(#grainS)"><path d="M570.90,236.30 C573.75,235.87 576.53,236.53 579.50,237.90 C582.47,239.27 586.40,241.98 588.70,244.50 C591.00,247.02 592.42,249.72 593.30,253.00 C594.18,256.28 594.77,260.80 594.00,264.20 C593.23,267.60 591.12,270.65 588.70,273.40 C586.28,276.15 582.57,279.20 579.50,280.70 C576.43,282.20 573.15,282.73 570.30,282.40 C567.45,282.07 565.03,280.85 562.40,278.70 C559.77,276.55 556.37,273.23 554.50,269.50 C552.63,265.77 550.98,260.03 551.20,256.30 C551.42,252.57 553.93,249.73 555.80,247.10 C557.67,244.47 559.88,242.30 562.40,240.50 C564.92,238.70 568.05,236.73 570.90,236.30 Z" fill="#8d83a8"/></g>
<circle cx="572.6" cy="258.3" r="10.3" fill="url(#hole)"/>
<rect x="568.3" y="257.0" width="6.8" height="6.8" rx="1.6" fill="#fff"/>
<rect x="583.5" y="281.3" width="15.8" height="2" fill="#000"/>
<text x="571.30" y="296.20" font-size="9.4" text-anchor="middle" fill="#231f20" font-weight="normal" >SDS</text>
</svg></body></html>
